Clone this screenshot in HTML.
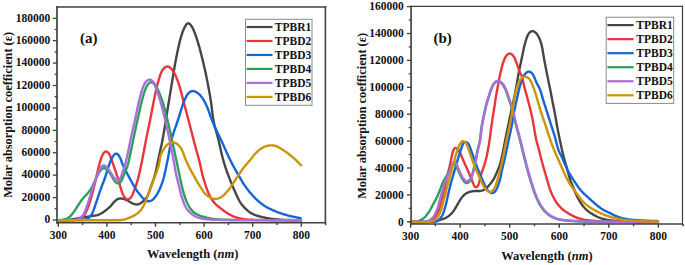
<!DOCTYPE html>
<html><head><meta charset="utf-8"><style>
html,body{margin:0;padding:0;background:#fff;}
svg{display:block;}
.t{font-family:"Liberation Serif",serif;font-weight:bold;font-size:11.5px;fill:#111;}
.ax{font-family:"Liberation Serif",serif;font-weight:bold;font-size:12.3px;fill:#111;}
.pl{font-family:"Liberation Serif",serif;font-weight:bold;font-size:15px;fill:#111;}
</style></head><body>
<svg width="685" height="265" viewBox="0 0 685 265">
<rect width="685" height="265" fill="#fff"/>
<path d="M57.75,220.20 L58.50,220.20 L59.25,220.19 L60.00,220.19 L60.75,220.18 L61.50,220.17 L62.25,220.17 L63.00,220.15 L63.75,220.14 L64.50,220.13 L65.25,220.11 L66.00,220.08 L66.75,220.04 L67.49,219.99 L68.24,219.92 L68.99,219.83 L69.73,219.74 L70.47,219.64 L71.21,219.53 L71.95,219.41 L72.69,219.29 L73.43,219.16 L74.17,219.02 L74.90,218.87 L75.64,218.72 L76.37,218.56 L77.11,218.40 L77.84,218.25 L78.57,218.10 L79.31,217.97 L80.05,217.84 L80.79,217.72 L81.53,217.61 L82.27,217.50 L83.02,217.39 L83.76,217.28 L84.50,217.17 L85.24,217.06 L85.98,216.95 L86.72,216.83 L87.46,216.71 L88.20,216.58 L88.94,216.46 L89.68,216.34 L90.42,216.21 L91.16,216.09 L91.91,215.98 L92.65,215.88 L93.39,215.77 L94.13,215.68 L94.88,215.57 L95.62,215.46 L96.36,215.33 L97.09,215.18 L97.81,214.99 L98.52,214.76 L99.21,214.48 L99.88,214.16 L100.54,213.80 L101.19,213.43 L101.83,213.04 L102.46,212.64 L103.09,212.23 L103.72,211.82 L104.34,211.40 L104.95,210.97 L105.56,210.53 L106.16,210.08 L106.75,209.62 L107.34,209.15 L107.91,208.67 L108.48,208.18 L109.03,207.68 L109.58,207.16 L110.11,206.63 L110.61,206.08 L111.11,205.52 L111.59,204.94 L112.07,204.36 L112.54,203.79 L113.03,203.21 L113.52,202.65 L114.03,202.11 L114.56,201.57 L115.10,201.05 L115.64,200.54 L116.20,200.05 L116.79,199.59 L117.40,199.20 L118.06,198.89 L118.75,198.69 L119.47,198.59 L120.21,198.55 L120.95,198.56 L121.70,198.60 L122.44,198.67 L123.17,198.80 L123.89,198.97 L124.60,199.21 L125.29,199.48 L125.97,199.80 L126.65,200.12 L127.31,200.46 L127.98,200.81 L128.63,201.17 L129.28,201.55 L129.93,201.93 L130.57,202.32 L131.22,202.69 L131.88,203.04 L132.56,203.35 L133.25,203.63 L133.96,203.87 L134.67,204.08 L135.40,204.25 L136.13,204.38 L136.86,204.44 L137.59,204.41 L138.31,204.29 L139.01,204.07 L139.68,203.77 L140.34,203.42 L140.97,203.02 L141.57,202.59 L142.15,202.12 L142.71,201.62 L143.26,201.11 L143.80,200.59 L144.32,200.05 L144.83,199.51 L145.33,198.95 L145.81,198.37 L146.27,197.78 L146.70,197.17 L147.11,196.54 L147.49,195.90 L147.83,195.24 L148.14,194.56 L148.43,193.87 L148.70,193.17 L148.96,192.46 L149.20,191.75 L149.44,191.04 L149.68,190.33 L149.91,189.62 L150.15,188.91 L150.39,188.20 L150.64,187.49 L150.89,186.78 L151.15,186.08 L151.41,185.37 L151.67,184.67 L151.94,183.97 L152.20,183.27 L152.46,182.57 L152.72,181.86 L152.98,181.16 L153.23,180.45 L153.47,179.74 L153.71,179.03 L153.94,178.32 L154.16,177.60 L154.37,176.88 L154.58,176.16 L154.78,175.44 L154.97,174.71 L155.16,173.99 L155.35,173.26 L155.53,172.53 L155.71,171.80 L155.88,171.08 L156.06,170.35 L156.23,169.62 L156.39,168.88 L156.56,168.15 L156.72,167.42 L156.88,166.69 L157.04,165.95 L157.19,165.22 L157.34,164.48 L157.49,163.75 L157.63,163.01 L157.78,162.28 L157.92,161.54 L158.06,160.81 L158.21,160.07 L158.35,159.33 L158.50,158.60 L158.64,157.86 L158.79,157.13 L158.95,156.39 L159.10,155.66 L159.26,154.93 L159.42,154.19 L159.58,153.46 L159.74,152.73 L159.90,152.00 L160.07,151.26 L160.23,150.53 L160.40,149.80 L160.56,149.07 L160.73,148.34 L160.89,147.61 L161.06,146.87 L161.22,146.14 L161.38,145.41 L161.54,144.68 L161.69,143.94 L161.85,143.21 L162.00,142.47 L162.15,141.74 L162.30,141.00 L162.44,140.27 L162.59,139.53 L162.73,138.80 L162.87,138.06 L163.00,137.32 L163.14,136.58 L163.27,135.85 L163.40,135.11 L163.53,134.37 L163.66,133.63 L163.79,132.89 L163.92,132.15 L164.04,131.41 L164.17,130.67 L164.29,129.93 L164.42,129.19 L164.54,128.45 L164.66,127.71 L164.78,126.97 L164.90,126.23 L165.02,125.49 L165.14,124.75 L165.26,124.01 L165.38,123.27 L165.50,122.53 L165.62,121.79 L165.74,121.05 L165.85,120.31 L165.97,119.57 L166.09,118.83 L166.20,118.09 L166.32,117.35 L166.44,116.60 L166.55,115.86 L166.67,115.12 L166.79,114.38 L166.90,113.64 L167.02,112.90 L167.14,112.16 L167.25,111.42 L167.37,110.68 L167.49,109.94 L167.61,109.20 L167.72,108.46 L167.84,107.71 L167.96,106.97 L168.08,106.23 L168.20,105.49 L168.32,104.75 L168.44,104.01 L168.56,103.27 L168.68,102.53 L168.80,101.79 L168.93,101.05 L169.05,100.31 L169.17,99.57 L169.29,98.83 L169.42,98.09 L169.54,97.35 L169.66,96.61 L169.79,95.87 L169.91,95.13 L170.03,94.39 L170.15,93.65 L170.27,92.91 L170.39,92.17 L170.51,91.43 L170.63,90.69 L170.75,89.95 L170.87,89.21 L170.99,88.47 L171.11,87.73 L171.23,86.99 L171.35,86.25 L171.47,85.51 L171.59,84.77 L171.71,84.03 L171.83,83.29 L171.95,82.55 L172.07,81.81 L172.20,81.07 L172.32,80.33 L172.44,79.59 L172.56,78.85 L172.68,78.11 L172.80,77.37 L172.92,76.63 L173.04,75.89 L173.17,75.15 L173.29,74.41 L173.41,73.67 L173.54,72.93 L173.66,72.19 L173.79,71.45 L173.91,70.71 L174.04,69.97 L174.17,69.23 L174.29,68.49 L174.42,67.75 L174.55,67.01 L174.68,66.28 L174.81,65.54 L174.94,64.80 L175.07,64.06 L175.21,63.32 L175.34,62.58 L175.48,61.85 L175.61,61.11 L175.75,60.37 L175.89,59.63 L176.03,58.90 L176.17,58.16 L176.32,57.43 L176.46,56.69 L176.61,55.95 L176.76,55.22 L176.91,54.48 L177.06,53.75 L177.21,53.02 L177.36,52.28 L177.52,51.55 L177.67,50.81 L177.83,50.08 L177.98,49.35 L178.14,48.61 L178.30,47.88 L178.46,47.15 L178.62,46.42 L178.79,45.68 L178.95,44.95 L179.12,44.22 L179.30,43.49 L179.47,42.76 L179.65,42.03 L179.83,41.31 L180.01,40.58 L180.20,39.85 L180.40,39.13 L180.60,38.41 L180.81,37.69 L181.02,36.97 L181.23,36.25 L181.45,35.53 L181.68,34.82 L181.91,34.10 L182.14,33.39 L182.38,32.68 L182.63,31.97 L182.88,31.26 L183.15,30.56 L183.42,29.87 L183.72,29.18 L184.03,28.50 L184.36,27.82 L184.71,27.16 L185.06,26.50 L185.43,25.85 L185.82,25.21 L186.24,24.60 L186.69,24.05 L187.21,23.60 L187.78,23.33 L188.38,23.28 L188.98,23.46 L189.55,23.82 L190.07,24.30 L190.56,24.85 L191.02,25.44 L191.45,26.05 L191.86,26.67 L192.25,27.31 L192.61,27.97 L192.95,28.64 L193.27,29.31 L193.57,30.00 L193.86,30.69 L194.14,31.39 L194.41,32.09 L194.67,32.79 L194.94,33.49 L195.20,34.19 L195.46,34.90 L195.71,35.60 L195.97,36.31 L196.21,37.02 L196.46,37.73 L196.69,38.44 L196.93,39.15 L197.16,39.86 L197.38,40.58 L197.61,41.29 L197.83,42.01 L198.04,42.73 L198.26,43.45 L198.47,44.17 L198.68,44.89 L198.88,45.61 L199.09,46.33 L199.29,47.05 L199.49,47.78 L199.69,48.50 L199.89,49.22 L200.08,49.95 L200.27,50.67 L200.47,51.40 L200.66,52.12 L200.85,52.85 L201.03,53.57 L201.22,54.30 L201.41,55.03 L201.59,55.75 L201.77,56.48 L201.95,57.21 L202.14,57.94 L202.32,58.67 L202.50,59.39 L202.67,60.12 L202.85,60.85 L203.03,61.58 L203.20,62.31 L203.37,63.04 L203.55,63.77 L203.72,64.50 L203.89,65.23 L204.06,65.96 L204.22,66.69 L204.39,67.42 L204.56,68.15 L204.72,68.89 L204.88,69.62 L205.05,70.35 L205.21,71.08 L205.37,71.82 L205.53,72.55 L205.68,73.28 L205.84,74.02 L206.00,74.75 L206.15,75.48 L206.30,76.22 L206.46,76.95 L206.61,77.69 L206.76,78.42 L206.91,79.16 L207.05,79.89 L207.20,80.63 L207.34,81.36 L207.49,82.10 L207.63,82.83 L207.78,83.57 L207.92,84.31 L208.06,85.04 L208.20,85.78 L208.34,86.52 L208.47,87.26 L208.61,87.99 L208.74,88.73 L208.88,89.47 L209.01,90.21 L209.15,90.94 L209.28,91.68 L209.41,92.42 L209.54,93.16 L209.67,93.90 L209.80,94.64 L209.92,95.38 L210.05,96.12 L210.17,96.86 L210.30,97.60 L210.42,98.34 L210.54,99.08 L210.66,99.82 L210.78,100.56 L210.89,101.30 L211.00,102.04 L211.11,102.78 L211.21,103.53 L211.31,104.27 L211.40,105.01 L211.50,105.76 L211.59,106.50 L211.68,107.25 L211.77,107.99 L211.86,108.73 L211.95,109.48 L212.05,110.22 L212.14,110.97 L212.23,111.71 L212.32,112.46 L212.41,113.20 L212.51,113.95 L212.60,114.69 L212.70,115.43 L212.80,116.18 L212.91,116.92 L213.02,117.66 L213.14,118.40 L213.26,119.14 L213.39,119.88 L213.53,120.62 L213.67,121.35 L213.82,122.09 L213.97,122.82 L214.13,123.55 L214.29,124.29 L214.46,125.02 L214.63,125.75 L214.81,126.48 L214.99,127.20 L215.18,127.93 L215.37,128.65 L215.57,129.38 L215.77,130.10 L215.97,130.82 L216.17,131.55 L216.38,132.27 L216.59,132.99 L216.79,133.71 L217.00,134.43 L217.20,135.15 L217.41,135.87 L217.61,136.60 L217.80,137.32 L218.00,138.04 L218.18,138.77 L218.37,139.50 L218.55,140.23 L218.73,140.95 L218.90,141.68 L219.07,142.41 L219.24,143.14 L219.41,143.88 L219.57,144.61 L219.74,145.34 L219.90,146.07 L220.07,146.80 L220.23,147.53 L220.39,148.27 L220.56,149.00 L220.72,149.73 L220.88,150.46 L221.05,151.19 L221.21,151.93 L221.38,152.66 L221.55,153.39 L221.72,154.12 L221.89,154.85 L222.06,155.58 L222.24,156.31 L222.42,157.03 L222.61,157.76 L222.80,158.49 L222.99,159.21 L223.19,159.93 L223.39,160.66 L223.60,161.38 L223.81,162.10 L224.03,162.81 L224.25,163.53 L224.47,164.25 L224.70,164.96 L224.93,165.68 L225.16,166.39 L225.40,167.10 L225.63,167.81 L225.88,168.52 L226.12,169.23 L226.37,169.94 L226.61,170.65 L226.87,171.35 L227.12,172.06 L227.37,172.77 L227.63,173.47 L227.88,174.18 L228.14,174.88 L228.40,175.58 L228.66,176.29 L228.92,176.99 L229.19,177.69 L229.46,178.39 L229.72,179.09 L229.99,179.79 L230.27,180.49 L230.54,181.19 L230.82,181.88 L231.10,182.58 L231.38,183.27 L231.67,183.97 L231.96,184.66 L232.25,185.35 L232.55,186.04 L232.84,186.73 L233.14,187.42 L233.45,188.10 L233.75,188.79 L234.05,189.47 L234.36,190.16 L234.66,190.85 L234.96,191.53 L235.26,192.22 L235.57,192.91 L235.87,193.59 L236.18,194.27 L236.49,194.96 L236.80,195.64 L237.11,196.32 L237.43,197.00 L237.76,197.68 L238.08,198.35 L238.42,199.02 L238.76,199.69 L239.12,200.35 L239.48,201.01 L239.85,201.65 L240.24,202.29 L240.65,202.92 L241.08,203.54 L241.52,204.14 L241.98,204.73 L242.45,205.31 L242.94,205.89 L243.43,206.45 L243.93,207.01 L244.44,207.56 L244.96,208.10 L245.48,208.64 L246.02,209.16 L246.56,209.68 L247.12,210.18 L247.69,210.67 L248.27,211.15 L248.86,211.61 L249.46,212.05 L250.08,212.47 L250.71,212.88 L251.35,213.26 L252.01,213.61 L252.68,213.95 L253.36,214.26 L254.05,214.55 L254.75,214.83 L255.45,215.10 L256.16,215.34 L256.87,215.58 L257.58,215.81 L258.30,216.02 L259.02,216.23 L259.74,216.42 L260.47,216.61 L261.20,216.80 L261.93,216.98 L262.65,217.15 L263.38,217.33 L264.12,217.49 L264.85,217.66 L265.58,217.82 L266.31,217.97 L267.05,218.12 L267.78,218.26 L268.52,218.39 L269.26,218.52 L270.00,218.64 L270.75,218.74 L271.49,218.84 L272.23,218.93 L272.98,219.01 L273.72,219.09 L274.47,219.17 L275.22,219.24 L275.96,219.31 L276.71,219.38 L277.46,219.45 L278.20,219.51 L278.95,219.57 L279.70,219.62 L280.45,219.67 L281.20,219.72 L281.95,219.76 L282.69,219.80 L283.44,219.84 L284.19,219.87 L284.94,219.89 L285.69,219.92 L286.44,219.94 L287.19,219.96 L287.94,219.98 L288.69,220.01 L289.44,220.02 L290.19,220.04 L290.94,220.06 L291.69,220.08 L292.44,220.10 L293.19,220.11 L293.94,220.13 L294.69,220.14 L295.44,220.15 L296.19,220.16 L296.94,220.17 L297.69,220.18 L298.44,220.19 L299.19,220.19 L299.94,220.20 L300.69,220.20" fill="none" stroke="#464646" stroke-width="2.4" stroke-linejoin="round" stroke-linecap="round"/>
<path d="M57.75,220.20 L58.50,220.20 L59.25,220.20 L60.00,220.20 L60.75,220.19 L61.50,220.19 L62.25,220.19 L63.00,220.19 L63.75,220.18 L64.50,220.18 L65.25,220.17 L66.00,220.17 L66.75,220.16 L67.50,220.15 L68.25,220.15 L69.00,220.14 L69.75,220.13 L70.50,220.12 L71.25,220.10 L72.00,220.09 L72.75,220.06 L73.50,220.01 L74.24,219.96 L74.99,219.88 L75.73,219.79 L76.47,219.68 L77.21,219.56 L77.95,219.41 L78.67,219.24 L79.39,219.03 L80.08,218.76 L80.74,218.43 L81.36,218.04 L81.95,217.59 L82.51,217.10 L83.05,216.57 L83.55,216.03 L84.03,215.45 L84.47,214.85 L84.88,214.23 L85.26,213.58 L85.61,212.92 L85.94,212.25 L86.26,211.57 L86.56,210.89 L86.86,210.20 L87.15,209.51 L87.44,208.81 L87.72,208.12 L88.00,207.42 L88.27,206.72 L88.53,206.02 L88.78,205.31 L89.02,204.60 L89.26,203.89 L89.49,203.18 L89.72,202.46 L89.94,201.75 L90.17,201.03 L90.38,200.31 L90.60,199.60 L90.81,198.88 L91.03,198.16 L91.23,197.44 L91.44,196.72 L91.64,195.99 L91.84,195.27 L92.03,194.55 L92.23,193.82 L92.42,193.10 L92.61,192.37 L92.80,191.64 L92.98,190.92 L93.17,190.19 L93.35,189.46 L93.54,188.74 L93.72,188.01 L93.90,187.28 L94.08,186.55 L94.26,185.83 L94.44,185.10 L94.61,184.37 L94.79,183.64 L94.96,182.91 L95.13,182.18 L95.31,181.45 L95.48,180.72 L95.65,179.99 L95.82,179.26 L95.99,178.53 L96.16,177.80 L96.33,177.07 L96.50,176.34 L96.67,175.61 L96.83,174.87 L97.00,174.14 L97.17,173.41 L97.34,172.68 L97.50,171.95 L97.67,171.22 L97.85,170.49 L98.02,169.76 L98.19,169.03 L98.37,168.30 L98.55,167.57 L98.72,166.84 L98.90,166.12 L99.08,165.39 L99.27,164.66 L99.46,163.93 L99.65,163.21 L99.85,162.49 L100.06,161.77 L100.28,161.05 L100.50,160.33 L100.72,159.62 L100.95,158.90 L101.20,158.19 L101.45,157.49 L101.72,156.79 L102.01,156.10 L102.33,155.43 L102.68,154.76 L103.05,154.12 L103.45,153.48 L103.88,152.88 L104.35,152.33 L104.87,151.89 L105.45,151.61 L106.07,151.53 L106.70,151.67 L107.31,151.98 L107.88,152.42 L108.40,152.94 L108.87,153.51 L109.29,154.12 L109.65,154.76 L109.98,155.43 L110.27,156.12 L110.54,156.82 L110.79,157.52 L111.04,158.23 L111.28,158.94 L111.52,159.65 L111.77,160.36 L112.02,161.07 L112.27,161.77 L112.52,162.48 L112.78,163.18 L113.03,163.89 L113.29,164.60 L113.54,165.30 L113.79,166.01 L114.04,166.72 L114.28,167.43 L114.53,168.14 L114.77,168.84 L115.01,169.55 L115.25,170.27 L115.49,170.98 L115.73,171.69 L115.96,172.40 L116.20,173.11 L116.43,173.82 L116.66,174.54 L116.90,175.25 L117.12,175.96 L117.35,176.68 L117.58,177.39 L117.80,178.11 L118.03,178.83 L118.25,179.54 L118.47,180.26 L118.69,180.98 L118.90,181.70 L119.11,182.41 L119.32,183.14 L119.53,183.86 L119.73,184.58 L119.93,185.30 L120.12,186.03 L120.32,186.75 L120.53,187.47 L120.74,188.19 L120.96,188.91 L121.19,189.62 L121.43,190.33 L121.67,191.04 L121.92,191.75 L122.17,192.45 L122.44,193.15 L122.72,193.85 L123.01,194.54 L123.34,195.21 L123.69,195.87 L124.08,196.50 L124.51,197.12 L124.97,197.70 L125.46,198.25 L125.99,198.75 L126.58,199.13 L127.20,199.37 L127.86,199.43 L128.51,199.29 L129.15,199.00 L129.74,198.59 L130.29,198.11 L130.80,197.57 L131.26,196.99 L131.67,196.37 L132.03,195.72 L132.36,195.05 L132.66,194.36 L132.94,193.67 L133.21,192.97 L133.48,192.27 L133.74,191.56 L134.00,190.86 L134.26,190.16 L134.52,189.45 L134.78,188.75 L135.03,188.05 L135.29,187.34 L135.54,186.63 L135.78,185.92 L136.02,185.21 L136.26,184.50 L136.49,183.79 L136.72,183.08 L136.94,182.36 L137.16,181.64 L137.38,180.92 L137.59,180.20 L137.80,179.48 L138.00,178.76 L138.20,178.04 L138.40,177.31 L138.59,176.59 L138.77,175.86 L138.95,175.13 L139.13,174.41 L139.30,173.68 L139.47,172.94 L139.64,172.21 L139.80,171.48 L139.96,170.75 L140.12,170.02 L140.28,169.28 L140.43,168.55 L140.59,167.82 L140.74,167.08 L140.90,166.35 L141.05,165.61 L141.20,164.88 L141.35,164.14 L141.50,163.41 L141.66,162.68 L141.81,161.94 L141.96,161.21 L142.11,160.47 L142.25,159.74 L142.40,159.00 L142.55,158.26 L142.69,157.53 L142.83,156.79 L142.98,156.06 L143.12,155.32 L143.26,154.58 L143.39,153.85 L143.53,153.11 L143.67,152.37 L143.81,151.63 L143.94,150.90 L144.08,150.16 L144.22,149.42 L144.35,148.68 L144.49,147.95 L144.63,147.21 L144.77,146.47 L144.90,145.73 L145.04,145.00 L145.18,144.26 L145.32,143.52 L145.46,142.79 L145.60,142.05 L145.74,141.31 L145.89,140.58 L146.03,139.84 L146.18,139.11 L146.33,138.37 L146.47,137.64 L146.62,136.90 L146.77,136.17 L146.92,135.43 L147.08,134.70 L147.23,133.96 L147.38,133.23 L147.53,132.49 L147.69,131.76 L147.84,131.02 L147.99,130.29 L148.15,129.56 L148.30,128.82 L148.45,128.09 L148.61,127.35 L148.76,126.62 L148.91,125.89 L149.07,125.15 L149.22,124.42 L149.37,123.68 L149.52,122.95 L149.67,122.21 L149.82,121.48 L149.97,120.74 L150.12,120.01 L150.26,119.27 L150.41,118.54 L150.55,117.80 L150.70,117.06 L150.84,116.33 L150.99,115.59 L151.13,114.86 L151.27,114.12 L151.41,113.38 L151.55,112.65 L151.69,111.91 L151.83,111.17 L151.97,110.44 L152.12,109.70 L152.26,108.96 L152.40,108.23 L152.54,107.49 L152.68,106.75 L152.82,106.02 L152.96,105.28 L153.10,104.54 L153.25,103.81 L153.39,103.07 L153.54,102.34 L153.68,101.60 L153.83,100.86 L153.97,100.13 L154.12,99.39 L154.27,98.66 L154.41,97.92 L154.56,97.19 L154.71,96.45 L154.85,95.72 L155.00,94.98 L155.15,94.24 L155.30,93.51 L155.45,92.78 L155.60,92.04 L155.76,91.31 L155.92,90.57 L156.08,89.84 L156.25,89.11 L156.42,88.38 L156.59,87.65 L156.77,86.92 L156.96,86.20 L157.15,85.47 L157.34,84.75 L157.54,84.02 L157.74,83.30 L157.94,82.58 L158.15,81.86 L158.36,81.14 L158.58,80.42 L158.79,79.70 L159.00,78.98 L159.22,78.26 L159.44,77.55 L159.66,76.83 L159.88,76.11 L160.12,75.40 L160.36,74.69 L160.63,73.99 L160.91,73.30 L161.21,72.61 L161.53,71.93 L161.86,71.26 L162.22,70.61 L162.60,69.97 L163.03,69.36 L163.49,68.78 L164.00,68.24 L164.56,67.75 L165.15,67.31 L165.78,66.93 L166.44,66.66 L167.12,66.51 L167.81,66.52 L168.49,66.68 L169.14,66.97 L169.76,67.36 L170.35,67.81 L170.90,68.31 L171.42,68.84 L171.91,69.40 L172.36,70.00 L172.79,70.61 L173.19,71.24 L173.57,71.89 L173.95,72.54 L174.31,73.19 L174.67,73.85 L175.01,74.52 L175.34,75.19 L175.66,75.87 L175.97,76.55 L176.27,77.24 L176.56,77.93 L176.85,78.62 L177.12,79.32 L177.39,80.02 L177.66,80.72 L177.91,81.43 L178.16,82.13 L178.40,82.85 L178.63,83.56 L178.86,84.27 L179.09,84.99 L179.31,85.70 L179.53,86.42 L179.75,87.14 L179.96,87.86 L180.17,88.58 L180.38,89.30 L180.59,90.02 L180.79,90.74 L180.98,91.46 L181.18,92.19 L181.37,92.91 L181.56,93.64 L181.75,94.37 L181.94,95.09 L182.12,95.82 L182.31,96.54 L182.50,97.27 L182.68,98.00 L182.87,98.72 L183.06,99.45 L183.25,100.18 L183.44,100.90 L183.63,101.63 L183.82,102.35 L184.01,103.08 L184.20,103.80 L184.39,104.53 L184.58,105.25 L184.77,105.98 L184.96,106.70 L185.15,107.43 L185.34,108.16 L185.53,108.88 L185.72,109.61 L185.91,110.33 L186.10,111.06 L186.28,111.78 L186.47,112.51 L186.66,113.24 L186.85,113.96 L187.04,114.69 L187.23,115.41 L187.42,116.14 L187.61,116.86 L187.80,117.59 L187.99,118.32 L188.18,119.04 L188.37,119.77 L188.56,120.49 L188.75,121.22 L188.94,121.94 L189.13,122.67 L189.32,123.39 L189.51,124.12 L189.70,124.85 L189.89,125.57 L190.08,126.30 L190.27,127.02 L190.46,127.75 L190.65,128.47 L190.83,129.20 L191.02,129.93 L191.21,130.65 L191.40,131.38 L191.59,132.10 L191.78,132.83 L191.97,133.56 L192.15,134.28 L192.34,135.01 L192.53,135.73 L192.72,136.46 L192.91,137.18 L193.10,137.91 L193.29,138.64 L193.48,139.36 L193.67,140.09 L193.85,140.81 L194.04,141.54 L194.24,142.26 L194.43,142.99 L194.62,143.71 L194.81,144.44 L195.00,145.16 L195.19,145.89 L195.39,146.61 L195.58,147.34 L195.78,148.06 L195.97,148.79 L196.17,149.51 L196.37,150.23 L196.57,150.96 L196.77,151.68 L196.97,152.40 L197.18,153.12 L197.39,153.84 L197.59,154.56 L197.80,155.28 L198.01,156.01 L198.21,156.73 L198.41,157.45 L198.61,158.17 L198.80,158.90 L198.99,159.62 L199.18,160.35 L199.36,161.08 L199.54,161.81 L199.71,162.54 L199.88,163.27 L200.05,164.00 L200.21,164.73 L200.37,165.46 L200.53,166.20 L200.69,166.93 L200.85,167.66 L201.01,168.39 L201.17,169.13 L201.33,169.86 L201.49,170.59 L201.65,171.32 L201.82,172.06 L201.99,172.79 L202.16,173.52 L202.33,174.25 L202.51,174.97 L202.70,175.70 L202.89,176.42 L203.09,177.15 L203.30,177.87 L203.51,178.59 L203.72,179.31 L203.93,180.03 L204.15,180.74 L204.37,181.46 L204.59,182.18 L204.81,182.90 L205.04,183.61 L205.26,184.33 L205.49,185.04 L205.73,185.75 L205.96,186.46 L206.21,187.17 L206.45,187.88 L206.70,188.59 L206.95,189.30 L207.21,190.00 L207.48,190.70 L207.75,191.40 L208.03,192.10 L208.32,192.79 L208.61,193.48 L208.92,194.16 L209.24,194.84 L209.57,195.51 L209.91,196.18 L210.27,196.84 L210.64,197.49 L211.02,198.13 L211.42,198.77 L211.82,199.40 L212.24,200.02 L212.68,200.63 L213.13,201.23 L213.59,201.82 L214.06,202.40 L214.56,202.97 L215.06,203.52 L215.58,204.06 L216.12,204.58 L216.67,205.09 L217.24,205.58 L217.81,206.06 L218.39,206.53 L218.98,207.00 L219.57,207.46 L220.17,207.92 L220.76,208.38 L221.35,208.84 L221.94,209.30 L222.54,209.76 L223.13,210.22 L223.73,210.67 L224.33,211.12 L224.93,211.56 L225.54,212.00 L226.16,212.42 L226.79,212.83 L227.42,213.23 L228.06,213.62 L228.71,213.99 L229.37,214.36 L230.03,214.71 L230.69,215.07 L231.36,215.41 L232.03,215.74 L232.71,216.06 L233.39,216.36 L234.09,216.64 L234.79,216.91 L235.50,217.15 L236.21,217.38 L236.93,217.59 L237.65,217.79 L238.38,217.98 L239.10,218.16 L239.83,218.34 L240.56,218.51 L241.30,218.67 L242.03,218.82 L242.77,218.95 L243.51,219.08 L244.25,219.19 L244.99,219.29 L245.74,219.37 L246.48,219.44 L247.23,219.50 L247.98,219.55 L248.73,219.60 L249.48,219.64 L250.23,219.68 L250.97,219.71 L251.72,219.75 L252.47,219.78 L253.22,219.82 L253.97,219.85 L254.72,219.88 L255.47,219.90 L256.22,219.93 L256.97,219.95 L257.72,219.97 L258.47,219.99 L259.22,220.01 L259.97,220.03 L260.72,220.04 L261.47,220.06 L262.22,220.07 L262.97,220.08 L263.72,220.09 L264.47,220.09 L265.22,220.10 L265.97,220.10 L266.72,220.11 L267.47,220.11 L268.22,220.12 L268.97,220.12 L269.72,220.12 L270.47,220.13 L271.22,220.13 L271.97,220.14 L272.72,220.14 L273.47,220.14 L274.22,220.14 L274.97,220.15 L275.72,220.15 L276.47,220.15 L277.22,220.16 L277.97,220.16 L278.72,220.16 L279.47,220.16 L280.22,220.17 L280.97,220.17 L281.72,220.17 L282.47,220.17 L283.22,220.18 L283.97,220.18 L284.72,220.18 L285.47,220.18 L286.22,220.18 L286.97,220.18 L287.72,220.19 L288.47,220.19 L289.22,220.19 L289.97,220.19 L290.72,220.19 L291.47,220.19 L292.22,220.19 L292.97,220.19 L293.72,220.20 L294.47,220.20 L295.22,220.20 L295.97,220.20 L296.72,220.20 L297.47,220.20 L298.22,220.20 L298.97,220.20 L299.72,220.20 L300.47,220.20 L301.22,220.20" fill="none" stroke="#e8363c" stroke-width="2.4" stroke-linejoin="round" stroke-linecap="round"/>
<path d="M57.75,220.20 L58.50,220.20 L59.25,220.20 L60.00,220.20 L60.75,220.20 L61.50,220.20 L62.25,220.20 L63.00,220.20 L63.75,220.20 L64.50,220.19 L65.25,220.19 L66.00,220.19 L66.75,220.19 L67.50,220.19 L68.25,220.19 L69.00,220.18 L69.75,220.18 L70.50,220.18 L71.25,220.17 L72.00,220.17 L72.75,220.17 L73.50,220.16 L74.25,220.16 L75.00,220.16 L75.75,220.15 L76.50,220.15 L77.25,220.14 L78.00,220.14 L78.75,220.13 L79.50,220.12 L80.25,220.11 L81.00,220.10 L81.75,220.07 L82.49,220.02 L83.24,219.94 L83.97,219.82 L84.70,219.66 L85.42,219.46 L86.13,219.23 L86.83,218.96 L87.50,218.64 L88.13,218.26 L88.73,217.83 L89.29,217.34 L89.82,216.82 L90.32,216.26 L90.79,215.68 L91.23,215.08 L91.65,214.46 L92.03,213.82 L92.38,213.16 L92.69,212.48 L92.98,211.79 L93.26,211.09 L93.52,210.39 L93.77,209.68 L94.01,208.97 L94.26,208.26 L94.49,207.55 L94.73,206.84 L94.97,206.13 L95.22,205.42 L95.46,204.71 L95.71,204.00 L95.95,203.29 L96.19,202.58 L96.43,201.87 L96.67,201.16 L96.90,200.45 L97.13,199.74 L97.37,199.02 L97.60,198.31 L97.84,197.60 L98.07,196.89 L98.31,196.17 L98.55,195.46 L98.79,194.75 L99.03,194.04 L99.27,193.33 L99.52,192.62 L99.76,191.92 L100.01,191.21 L100.25,190.50 L100.50,189.79 L100.75,189.08 L101.00,188.38 L101.26,187.67 L101.52,186.97 L101.78,186.27 L102.05,185.57 L102.32,184.87 L102.60,184.17 L102.88,183.47 L103.15,182.78 L103.43,182.08 L103.70,181.38 L103.97,180.68 L104.23,179.98 L104.49,179.27 L104.74,178.57 L104.98,177.86 L105.22,177.14 L105.45,176.43 L105.68,175.72 L105.90,175.00 L106.12,174.28 L106.34,173.57 L106.55,172.85 L106.77,172.13 L106.99,171.41 L107.20,170.69 L107.42,169.98 L107.64,169.26 L107.87,168.54 L108.10,167.83 L108.33,167.12 L108.57,166.41 L108.81,165.70 L109.07,164.99 L109.32,164.29 L109.59,163.58 L109.85,162.88 L110.12,162.18 L110.39,161.48 L110.67,160.79 L110.96,160.10 L111.26,159.41 L111.58,158.73 L111.92,158.07 L112.29,157.42 L112.69,156.78 L113.11,156.16 L113.54,155.56 L114.01,154.98 L114.51,154.45 L115.05,154.01 L115.65,153.73 L116.26,153.65 L116.88,153.79 L117.45,154.12 L117.98,154.58 L118.47,155.13 L118.91,155.73 L119.33,156.35 L119.71,156.99 L120.05,157.65 L120.36,158.33 L120.64,159.03 L120.91,159.73 L121.16,160.43 L121.41,161.14 L121.66,161.85 L121.92,162.55 L122.18,163.25 L122.46,163.95 L122.74,164.64 L123.05,165.33 L123.36,166.01 L123.68,166.69 L124.00,167.37 L124.33,168.04 L124.67,168.71 L125.00,169.38 L125.35,170.05 L125.69,170.71 L126.04,171.38 L126.39,172.04 L126.74,172.70 L127.09,173.37 L127.44,174.03 L127.79,174.69 L128.14,175.36 L128.49,176.02 L128.84,176.68 L129.19,177.35 L129.54,178.01 L129.90,178.67 L130.25,179.33 L130.61,179.99 L130.97,180.64 L131.34,181.30 L131.70,181.96 L132.06,182.61 L132.43,183.27 L132.79,183.92 L133.16,184.58 L133.53,185.23 L133.90,185.88 L134.27,186.53 L134.65,187.18 L135.03,187.83 L135.42,188.46 L135.83,189.10 L136.24,189.72 L136.67,190.34 L137.10,190.95 L137.55,191.55 L138.01,192.14 L138.48,192.73 L138.95,193.31 L139.42,193.90 L139.89,194.48 L140.35,195.07 L140.82,195.66 L141.27,196.25 L141.74,196.84 L142.21,197.42 L142.70,197.98 L143.22,198.52 L143.78,199.02 L144.36,199.49 L144.96,199.92 L145.59,200.32 L146.24,200.68 L146.91,200.98 L147.61,201.19 L148.32,201.29 L149.04,201.28 L149.76,201.16 L150.46,200.94 L151.14,200.66 L151.80,200.31 L152.43,199.92 L153.01,199.46 L153.56,198.96 L154.06,198.42 L154.54,197.84 L154.99,197.25 L155.43,196.64 L155.86,196.03 L156.29,195.41 L156.70,194.78 L157.10,194.15 L157.48,193.51 L157.86,192.85 L158.21,192.20 L158.56,191.53 L158.90,190.86 L159.23,190.19 L159.54,189.51 L159.85,188.82 L160.15,188.14 L160.44,187.45 L160.72,186.75 L161.00,186.05 L161.27,185.35 L161.53,184.65 L161.79,183.95 L162.04,183.24 L162.28,182.53 L162.52,181.82 L162.74,181.10 L162.96,180.39 L163.18,179.67 L163.38,178.95 L163.58,178.22 L163.77,177.50 L163.96,176.77 L164.14,176.04 L164.32,175.32 L164.50,174.59 L164.67,173.86 L164.85,173.13 L165.02,172.40 L165.19,171.67 L165.35,170.94 L165.52,170.21 L165.68,169.47 L165.83,168.74 L165.99,168.01 L166.14,167.27 L166.29,166.54 L166.44,165.80 L166.59,165.07 L166.74,164.33 L166.89,163.60 L167.03,162.86 L167.18,162.12 L167.33,161.39 L167.47,160.65 L167.62,159.92 L167.76,159.18 L167.91,158.45 L168.06,157.71 L168.20,156.97 L168.34,156.24 L168.48,155.50 L168.62,154.76 L168.76,154.03 L168.89,153.29 L169.03,152.55 L169.16,151.81 L169.29,151.08 L169.43,150.34 L169.56,149.60 L169.70,148.86 L169.83,148.12 L169.97,147.39 L170.10,146.65 L170.24,145.91 L170.39,145.18 L170.53,144.44 L170.68,143.70 L170.83,142.97 L170.99,142.24 L171.15,141.51 L171.32,140.78 L171.50,140.05 L171.68,139.32 L171.87,138.59 L172.06,137.87 L172.26,137.15 L172.47,136.42 L172.67,135.70 L172.88,134.98 L173.10,134.27 L173.32,133.55 L173.55,132.83 L173.77,132.12 L174.01,131.41 L174.24,130.69 L174.48,129.98 L174.73,129.27 L174.97,128.57 L175.22,127.86 L175.47,127.15 L175.72,126.44 L175.97,125.74 L176.22,125.03 L176.47,124.32 L176.72,123.62 L176.97,122.91 L177.22,122.20 L177.46,121.49 L177.70,120.78 L177.94,120.07 L178.17,119.36 L178.41,118.64 L178.63,117.93 L178.86,117.21 L179.08,116.50 L179.31,115.78 L179.53,115.06 L179.75,114.35 L179.96,113.63 L180.18,112.91 L180.40,112.20 L180.62,111.48 L180.84,110.76 L181.06,110.04 L181.29,109.33 L181.51,108.61 L181.74,107.90 L181.96,107.18 L182.20,106.47 L182.43,105.76 L182.67,105.05 L182.92,104.34 L183.17,103.63 L183.43,102.93 L183.69,102.23 L183.97,101.53 L184.25,100.84 L184.55,100.15 L184.85,99.46 L185.16,98.78 L185.47,98.09 L185.79,97.42 L186.11,96.74 L186.45,96.07 L186.81,95.41 L187.19,94.78 L187.62,94.16 L188.08,93.59 L188.60,93.06 L189.16,92.57 L189.76,92.14 L190.39,91.75 L191.05,91.44 L191.75,91.22 L192.46,91.11 L193.18,91.11 L193.90,91.22 L194.60,91.42 L195.30,91.69 L195.97,92.00 L196.63,92.35 L197.28,92.73 L197.90,93.15 L198.49,93.59 L199.06,94.08 L199.60,94.60 L200.11,95.14 L200.60,95.71 L201.07,96.29 L201.53,96.88 L201.98,97.48 L202.41,98.09 L202.84,98.71 L203.25,99.33 L203.65,99.97 L204.03,100.61 L204.39,101.27 L204.74,101.93 L205.08,102.60 L205.40,103.28 L205.72,103.96 L206.03,104.64 L206.34,105.33 L206.64,106.01 L206.94,106.70 L207.23,107.39 L207.52,108.08 L207.81,108.78 L208.08,109.47 L208.35,110.17 L208.62,110.87 L208.87,111.58 L209.13,112.28 L209.38,112.99 L209.62,113.70 L209.87,114.41 L210.12,115.12 L210.37,115.82 L210.62,116.53 L210.87,117.24 L211.12,117.94 L211.39,118.64 L211.65,119.34 L211.93,120.04 L212.21,120.74 L212.49,121.43 L212.78,122.13 L213.06,122.82 L213.36,123.51 L213.65,124.20 L213.95,124.89 L214.25,125.58 L214.55,126.26 L214.86,126.95 L215.16,127.63 L215.47,128.32 L215.78,129.00 L216.09,129.68 L216.40,130.36 L216.72,131.04 L217.03,131.73 L217.35,132.41 L217.67,133.08 L217.99,133.76 L218.31,134.44 L218.64,135.11 L218.97,135.79 L219.30,136.46 L219.63,137.13 L219.97,137.80 L220.30,138.48 L220.63,139.15 L220.96,139.82 L221.28,140.50 L221.61,141.18 L221.93,141.85 L222.24,142.53 L222.56,143.22 L222.87,143.90 L223.17,144.58 L223.48,145.27 L223.78,145.95 L224.09,146.64 L224.39,147.32 L224.69,148.01 L224.99,148.70 L225.29,149.39 L225.59,150.07 L225.90,150.76 L226.20,151.44 L226.51,152.13 L226.81,152.81 L227.12,153.50 L227.44,154.18 L227.75,154.86 L228.07,155.54 L228.39,156.22 L228.71,156.89 L229.03,157.57 L229.36,158.25 L229.68,158.92 L230.01,159.60 L230.34,160.27 L230.67,160.94 L231.01,161.61 L231.34,162.28 L231.68,162.95 L232.02,163.62 L232.37,164.29 L232.72,164.95 L233.07,165.61 L233.42,166.27 L233.78,166.93 L234.15,167.59 L234.51,168.24 L234.88,168.90 L235.25,169.55 L235.63,170.20 L236.00,170.85 L236.38,171.50 L236.76,172.14 L237.14,172.79 L237.52,173.44 L237.90,174.08 L238.27,174.73 L238.65,175.38 L239.03,176.03 L239.40,176.68 L239.77,177.33 L240.14,177.98 L240.51,178.64 L240.88,179.29 L241.25,179.94 L241.63,180.59 L242.00,181.24 L242.38,181.89 L242.77,182.53 L243.16,183.17 L243.56,183.80 L243.97,184.43 L244.39,185.05 L244.81,185.67 L245.24,186.29 L245.68,186.90 L246.12,187.50 L246.56,188.11 L247.01,188.71 L247.47,189.30 L247.93,189.89 L248.40,190.48 L248.86,191.07 L249.34,191.65 L249.81,192.23 L250.29,192.80 L250.78,193.38 L251.27,193.95 L251.76,194.51 L252.25,195.07 L252.76,195.63 L253.26,196.18 L253.78,196.73 L254.30,197.27 L254.82,197.80 L255.35,198.33 L255.89,198.86 L256.44,199.37 L256.98,199.88 L257.54,200.39 L258.10,200.89 L258.66,201.38 L259.23,201.87 L259.81,202.35 L260.39,202.82 L260.98,203.28 L261.58,203.74 L262.17,204.19 L262.78,204.64 L263.39,205.07 L264.00,205.50 L264.63,205.92 L265.26,206.32 L265.90,206.71 L266.54,207.09 L267.20,207.46 L267.86,207.82 L268.52,208.16 L269.19,208.50 L269.87,208.83 L270.54,209.15 L271.22,209.46 L271.91,209.77 L272.59,210.08 L273.28,210.38 L273.97,210.67 L274.66,210.96 L275.36,211.24 L276.05,211.52 L276.75,211.79 L277.45,212.06 L278.15,212.33 L278.86,212.58 L279.56,212.84 L280.27,213.09 L280.98,213.34 L281.69,213.58 L282.40,213.82 L283.11,214.05 L283.83,214.28 L284.54,214.51 L285.26,214.73 L285.98,214.94 L286.70,215.15 L287.42,215.35 L288.14,215.55 L288.87,215.73 L289.60,215.91 L290.33,216.09 L291.06,216.26 L291.79,216.42 L292.52,216.58 L293.26,216.74 L293.99,216.89 L294.72,217.04 L295.46,217.19 L296.19,217.34 L296.93,217.48 L297.67,217.63 L298.40,217.77 L299.14,217.90 L299.88,218.03 L300.62,218.13" fill="none" stroke="#1565d8" stroke-width="2.4" stroke-linejoin="round" stroke-linecap="round"/>
<path d="M57.75,220.16 L58.50,220.12 L59.24,220.06 L59.99,219.99 L60.74,219.91 L61.48,219.82 L62.22,219.71 L62.96,219.59 L63.69,219.44 L64.42,219.27 L65.14,219.07 L65.85,218.84 L66.55,218.57 L67.23,218.27 L67.90,217.93 L68.55,217.56 L69.17,217.14 L69.75,216.69 L70.31,216.19 L70.83,215.66 L71.33,215.10 L71.80,214.52 L72.27,213.94 L72.73,213.34 L73.18,212.74 L73.63,212.14 L74.07,211.54 L74.50,210.92 L74.92,210.31 L75.34,209.68 L75.75,209.05 L76.16,208.42 L76.56,207.79 L76.96,207.16 L77.37,206.53 L77.78,205.90 L78.19,205.27 L78.60,204.64 L79.01,204.02 L79.42,203.39 L79.83,202.76 L80.25,202.14 L80.66,201.51 L81.09,200.89 L81.52,200.28 L81.96,199.68 L82.42,199.08 L82.89,198.50 L83.37,197.93 L83.87,197.37 L84.38,196.82 L84.90,196.27 L85.41,195.73 L85.93,195.19 L86.44,194.63 L86.94,194.08 L87.43,193.51 L87.92,192.94 L88.39,192.36 L88.87,191.78 L89.33,191.19 L89.78,190.59 L90.21,189.98 L90.63,189.36 L91.03,188.72 L91.41,188.08 L91.77,187.42 L92.12,186.76 L92.45,186.09 L92.78,185.41 L93.10,184.74 L93.42,184.06 L93.74,183.38 L94.06,182.70 L94.39,182.03 L94.71,181.35 L95.03,180.67 L95.34,179.99 L95.66,179.31 L95.97,178.63 L96.29,177.95 L96.61,177.27 L96.94,176.59 L97.27,175.92 L97.61,175.26 L97.96,174.59 L98.32,173.93 L98.69,173.28 L99.06,172.63 L99.45,171.99 L99.86,171.36 L100.29,170.76 L100.76,170.18 L101.27,169.63 L101.81,169.13 L102.38,168.69 L103.00,168.37 L103.65,168.19 L104.31,168.20 L104.96,168.40 L105.58,168.73 L106.18,169.15 L106.75,169.63 L107.29,170.14 L107.82,170.67 L108.32,171.23 L108.79,171.81 L109.25,172.40 L109.69,173.00 L110.12,173.62 L110.55,174.24 L110.96,174.86 L111.36,175.50 L111.74,176.14 L112.11,176.79 L112.47,177.45 L112.82,178.11 L113.17,178.78 L113.53,179.43 L113.92,180.07 L114.34,180.68 L114.80,181.28 L115.28,181.84 L115.80,182.36 L116.36,182.81 L116.96,183.15 L117.60,183.32 L118.27,183.30 L118.92,183.11 L119.55,182.78 L120.12,182.34 L120.63,181.82 L121.08,181.24 L121.47,180.61 L121.81,179.95 L122.12,179.27 L122.40,178.58 L122.68,177.88 L122.95,177.18 L123.22,176.49 L123.49,175.79 L123.77,175.09 L124.06,174.40 L124.35,173.70 L124.64,173.02 L124.94,172.33 L125.23,171.64 L125.53,170.95 L125.82,170.25 L126.10,169.56 L126.38,168.86 L126.64,168.16 L126.90,167.46 L127.15,166.75 L127.39,166.04 L127.63,165.33 L127.85,164.61 L128.06,163.89 L128.25,163.17 L128.44,162.44 L128.62,161.72 L128.79,160.99 L128.96,160.25 L129.12,159.52 L129.28,158.79 L129.44,158.06 L129.59,157.32 L129.74,156.59 L129.90,155.85 L130.05,155.12 L130.21,154.39 L130.36,153.65 L130.52,152.92 L130.67,152.19 L130.83,151.45 L130.98,150.72 L131.14,149.98 L131.29,149.25 L131.44,148.52 L131.60,147.78 L131.75,147.05 L131.90,146.31 L132.05,145.58 L132.20,144.84 L132.35,144.11 L132.50,143.37 L132.65,142.64 L132.80,141.90 L132.96,141.17 L133.11,140.43 L133.26,139.70 L133.42,138.97 L133.57,138.23 L133.73,137.50 L133.88,136.77 L134.04,136.03 L134.19,135.30 L134.35,134.56 L134.51,133.83 L134.66,133.10 L134.82,132.36 L134.97,131.63 L135.13,130.90 L135.29,130.16 L135.44,129.43 L135.60,128.70 L135.76,127.96 L135.92,127.23 L136.08,126.50 L136.24,125.76 L136.39,125.03 L136.55,124.30 L136.71,123.57 L136.87,122.83 L137.04,122.10 L137.20,121.37 L137.36,120.64 L137.52,119.90 L137.68,119.17 L137.84,118.44 L138.01,117.71 L138.17,116.97 L138.33,116.24 L138.49,115.51 L138.65,114.78 L138.81,114.04 L138.97,113.31 L139.13,112.58 L139.29,111.85 L139.45,111.11 L139.61,110.38 L139.78,109.65 L139.94,108.92 L140.10,108.19 L140.27,107.45 L140.44,106.72 L140.61,105.99 L140.78,105.26 L140.96,104.53 L141.13,103.80 L141.31,103.08 L141.49,102.35 L141.68,101.62 L141.87,100.90 L142.06,100.17 L142.25,99.45 L142.45,98.72 L142.65,98.00 L142.85,97.28 L143.05,96.55 L143.25,95.83 L143.46,95.11 L143.67,94.39 L143.88,93.67 L144.11,92.96 L144.33,92.24 L144.57,91.53 L144.82,90.82 L145.08,90.12 L145.35,89.42 L145.63,88.73 L145.93,88.04 L146.24,87.36 L146.56,86.68 L146.90,86.01 L147.26,85.36 L147.65,84.73 L148.09,84.13 L148.58,83.58 L149.12,83.08 L149.71,82.68 L150.35,82.38 L151.01,82.25 L151.68,82.29 L152.34,82.50 L152.97,82.84 L153.57,83.26 L154.12,83.75 L154.63,84.29 L155.09,84.87 L155.52,85.49 L155.92,86.12 L156.29,86.77 L156.66,87.42 L157.01,88.08 L157.36,88.75 L157.70,89.41 L158.03,90.09 L158.36,90.76 L158.67,91.44 L158.98,92.13 L159.27,92.82 L159.56,93.51 L159.85,94.20 L160.12,94.90 L160.40,95.60 L160.66,96.30 L160.93,97.00 L161.18,97.71 L161.44,98.41 L161.69,99.12 L161.93,99.83 L162.17,100.54 L162.41,101.25 L162.64,101.96 L162.86,102.68 L163.08,103.40 L163.30,104.11 L163.51,104.83 L163.72,105.55 L163.93,106.27 L164.13,107.00 L164.33,107.72 L164.52,108.44 L164.72,109.17 L164.91,109.89 L165.11,110.62 L165.30,111.34 L165.49,112.07 L165.67,112.79 L165.86,113.52 L166.05,114.25 L166.23,114.97 L166.42,115.70 L166.60,116.43 L166.79,117.15 L166.97,117.88 L167.15,118.61 L167.33,119.34 L167.51,120.07 L167.69,120.79 L167.86,121.52 L168.03,122.25 L168.21,122.98 L168.38,123.71 L168.55,124.44 L168.71,125.18 L168.88,125.91 L169.05,126.64 L169.21,127.37 L169.38,128.10 L169.54,128.83 L169.70,129.57 L169.87,130.30 L170.03,131.03 L170.19,131.76 L170.35,132.49 L170.51,133.23 L170.67,133.96 L170.84,134.69 L171.00,135.42 L171.16,136.16 L171.32,136.89 L171.48,137.62 L171.64,138.36 L171.80,139.09 L171.96,139.82 L172.12,140.55 L172.28,141.29 L172.44,142.02 L172.60,142.75 L172.76,143.48 L172.92,144.22 L173.08,144.95 L173.24,145.68 L173.39,146.42 L173.55,147.15 L173.71,147.88 L173.87,148.62 L174.02,149.35 L174.18,150.08 L174.33,150.82 L174.49,151.55 L174.65,152.28 L174.80,153.02 L174.96,153.75 L175.11,154.48 L175.27,155.22 L175.43,155.95 L175.58,156.69 L175.74,157.42 L175.89,158.15 L176.05,158.89 L176.20,159.62 L176.36,160.35 L176.52,161.09 L176.67,161.82 L176.83,162.56 L176.98,163.29 L177.14,164.02 L177.29,164.76 L177.45,165.49 L177.60,166.22 L177.76,166.96 L177.91,167.69 L178.07,168.43 L178.22,169.16 L178.38,169.89 L178.53,170.63 L178.68,171.36 L178.84,172.10 L178.99,172.83 L179.14,173.56 L179.29,174.30 L179.45,175.03 L179.60,175.77 L179.75,176.50 L179.91,177.24 L180.06,177.97 L180.22,178.70 L180.38,179.44 L180.54,180.17 L180.70,180.90 L180.86,181.63 L181.03,182.36 L181.20,183.09 L181.36,183.83 L181.53,184.56 L181.70,185.29 L181.87,186.02 L182.04,186.75 L182.22,187.48 L182.39,188.21 L182.57,188.93 L182.75,189.66 L182.94,190.39 L183.13,191.11 L183.33,191.84 L183.53,192.56 L183.74,193.28 L183.96,194.00 L184.18,194.71 L184.40,195.43 L184.63,196.14 L184.86,196.86 L185.10,197.57 L185.34,198.28 L185.59,198.99 L185.84,199.69 L186.10,200.40 L186.38,201.09 L186.66,201.79 L186.95,202.48 L187.26,203.16 L187.59,203.83 L187.94,204.50 L188.29,205.16 L188.66,205.81 L189.05,206.45 L189.44,207.09 L189.84,207.72 L190.26,208.34 L190.70,208.96 L191.15,209.55 L191.62,210.14 L192.11,210.70 L192.63,211.24 L193.17,211.75 L193.74,212.24 L194.33,212.69 L194.94,213.12 L195.57,213.53 L196.21,213.91 L196.87,214.27 L197.54,214.61 L198.22,214.93 L198.90,215.23 L199.60,215.51 L200.30,215.77 L201.01,216.02 L201.72,216.26 L202.43,216.48 L203.15,216.69 L203.88,216.89 L204.60,217.09 L205.32,217.28 L206.05,217.47 L206.77,217.66 L207.50,217.85 L208.23,218.03 L208.96,218.20 L209.69,218.36 L210.42,218.51 L211.16,218.65 L211.90,218.76 L212.64,218.87 L213.39,218.97 L214.13,219.06 L214.88,219.14 L215.62,219.22 L216.37,219.29 L217.12,219.35 L217.86,219.41 L218.61,219.47 L219.36,219.52 L220.11,219.56 L220.86,219.60 L221.61,219.63 L222.36,219.66 L223.11,219.70 L223.86,219.73 L224.61,219.75 L225.35,219.78 L226.10,219.81 L226.85,219.83 L227.60,219.86 L228.35,219.88 L229.10,219.91 L229.85,219.93 L230.60,219.95 L231.35,219.97 L232.10,219.99 L232.85,220.00 L233.60,220.02 L234.35,220.03 L235.10,220.05 L235.85,220.06 L236.60,220.07 L237.35,220.08 L238.10,220.09 L238.85,220.09 L239.60,220.10 L240.35,220.10 L241.10,220.10 L241.85,220.11 L242.60,220.11 L243.35,220.11 L244.10,220.11 L244.85,220.12 L245.60,220.12 L246.35,220.12 L247.10,220.12 L247.85,220.13 L248.60,220.13 L249.35,220.13 L250.10,220.13 L250.85,220.13 L251.60,220.14 L252.35,220.14 L253.10,220.14 L253.85,220.14 L254.60,220.15 L255.35,220.15 L256.10,220.15 L256.85,220.15 L257.60,220.15 L258.35,220.15 L259.10,220.16 L259.85,220.16 L260.60,220.16 L261.35,220.16 L262.10,220.16 L262.85,220.16 L263.60,220.17 L264.35,220.17 L265.10,220.17 L265.85,220.17 L266.60,220.17 L267.35,220.17 L268.10,220.17 L268.85,220.17 L269.60,220.18 L270.35,220.18 L271.10,220.18 L271.85,220.18 L272.60,220.18 L273.35,220.18 L274.10,220.18 L274.85,220.18 L275.60,220.18 L276.35,220.19 L277.10,220.19 L277.85,220.19 L278.60,220.19 L279.35,220.19 L280.10,220.19 L280.85,220.19 L281.60,220.19 L282.35,220.19 L283.10,220.19 L283.85,220.19 L284.60,220.19 L285.35,220.19 L286.10,220.19 L286.85,220.20 L287.60,220.20 L288.35,220.20 L289.10,220.20 L289.85,220.20 L290.60,220.20 L291.35,220.20 L292.10,220.20 L292.85,220.20 L293.60,220.20 L294.35,220.20 L295.10,220.20 L295.85,220.20 L296.60,220.20 L297.35,220.20 L298.10,220.20 L298.85,220.20 L299.60,220.20 L300.35,220.20 L301.10,220.20" fill="none" stroke="#2aa05a" stroke-width="2.4" stroke-linejoin="round" stroke-linecap="round"/>
<path d="M57.75,220.20 L58.50,220.20 L59.25,220.20 L60.00,220.20 L60.75,220.20 L61.50,220.19 L62.25,220.19 L63.00,220.19 L63.75,220.18 L64.50,220.18 L65.25,220.17 L66.00,220.17 L66.75,220.16 L67.50,220.15 L68.25,220.15 L69.00,220.14 L69.75,220.13 L70.50,220.12 L71.25,220.10 L72.00,220.08 L72.75,220.05 L73.49,219.99 L74.24,219.92 L74.98,219.82 L75.72,219.69 L76.44,219.52 L77.15,219.30 L77.85,219.04 L78.54,218.74 L79.20,218.40 L79.85,218.02 L80.47,217.61 L81.06,217.16 L81.62,216.67 L82.15,216.15 L82.64,215.59 L83.09,215.00 L83.49,214.37 L83.86,213.72 L84.19,213.05 L84.50,212.37 L84.80,211.68 L85.09,210.99 L85.37,210.30 L85.65,209.60 L85.93,208.90 L86.20,208.20 L86.47,207.50 L86.73,206.80 L86.98,206.09 L87.23,205.39 L87.47,204.68 L87.71,203.96 L87.94,203.25 L88.16,202.54 L88.39,201.82 L88.61,201.11 L88.84,200.39 L89.06,199.67 L89.29,198.96 L89.51,198.24 L89.73,197.53 L89.95,196.81 L90.17,196.09 L90.39,195.37 L90.60,194.65 L90.82,193.94 L91.03,193.22 L91.25,192.50 L91.47,191.78 L91.69,191.06 L91.91,190.35 L92.14,189.63 L92.37,188.92 L92.61,188.21 L92.85,187.50 L93.09,186.79 L93.34,186.08 L93.60,185.38 L93.85,184.67 L94.11,183.97 L94.37,183.27 L94.64,182.56 L94.90,181.86 L95.16,181.16 L95.43,180.46 L95.69,179.76 L95.95,179.05 L96.22,178.35 L96.48,177.65 L96.74,176.95 L97.01,176.24 L97.28,175.54 L97.55,174.85 L97.83,174.15 L98.11,173.45 L98.39,172.76 L98.69,172.07 L98.98,171.38 L99.28,170.69 L99.58,170.01 L99.90,169.33 L100.24,168.66 L100.61,168.02 L101.02,167.39 L101.46,166.80 L101.95,166.25 L102.48,165.79 L103.05,165.47 L103.67,165.35 L104.30,165.44 L104.91,165.72 L105.49,166.13 L106.05,166.61 L106.58,167.13 L107.09,167.67 L107.59,168.24 L108.06,168.82 L108.52,169.41 L108.96,170.02 L109.39,170.63 L109.81,171.25 L110.23,171.87 L110.65,172.49 L111.06,173.12 L111.46,173.75 L111.86,174.39 L112.25,175.03 L112.63,175.67 L113.02,176.32 L113.42,176.95 L113.84,177.56 L114.29,178.16 L114.78,178.72 L115.30,179.24 L115.86,179.69 L116.46,180.03 L117.10,180.21 L117.76,180.19 L118.41,180.00 L119.01,179.65 L119.57,179.19 L120.05,178.65 L120.45,178.04 L120.79,177.39 L121.08,176.70 L121.34,176.00 L121.58,175.29 L121.82,174.58 L122.05,173.87 L122.29,173.16 L122.53,172.45 L122.77,171.74 L123.01,171.03 L123.26,170.32 L123.50,169.61 L123.74,168.90 L123.97,168.19 L124.20,167.47 L124.42,166.76 L124.64,166.04 L124.85,165.32 L125.06,164.60 L125.27,163.88 L125.46,163.15 L125.66,162.43 L125.85,161.70 L126.03,160.98 L126.21,160.25 L126.39,159.52 L126.56,158.79 L126.74,158.06 L126.91,157.33 L127.08,156.60 L127.25,155.87 L127.41,155.14 L127.58,154.41 L127.74,153.67 L127.90,152.94 L128.06,152.21 L128.22,151.48 L128.37,150.74 L128.52,150.01 L128.67,149.27 L128.81,148.54 L128.96,147.80 L129.10,147.06 L129.25,146.33 L129.39,145.59 L129.53,144.85 L129.67,144.12 L129.82,143.38 L129.96,142.65 L130.11,141.91 L130.26,141.18 L130.41,140.44 L130.57,139.71 L130.72,138.97 L130.88,138.24 L131.04,137.51 L131.20,136.78 L131.36,136.04 L131.52,135.31 L131.69,134.58 L131.85,133.85 L132.02,133.12 L132.18,132.38 L132.35,131.65 L132.52,130.92 L132.69,130.19 L132.85,129.46 L133.02,128.73 L133.19,128.00 L133.36,127.27 L133.53,126.54 L133.70,125.81 L133.87,125.08 L134.03,124.34 L134.20,123.61 L134.37,122.88 L134.53,122.15 L134.69,121.42 L134.86,120.69 L135.02,119.95 L135.18,119.22 L135.34,118.49 L135.50,117.75 L135.65,117.02 L135.81,116.29 L135.96,115.55 L136.11,114.82 L136.26,114.08 L136.41,113.35 L136.56,112.61 L136.71,111.88 L136.86,111.14 L137.01,110.41 L137.16,109.68 L137.31,108.94 L137.47,108.21 L137.62,107.47 L137.77,106.74 L137.93,106.00 L138.09,105.27 L138.25,104.54 L138.41,103.81 L138.57,103.07 L138.74,102.34 L138.91,101.61 L139.09,100.88 L139.27,100.16 L139.45,99.43 L139.63,98.70 L139.82,97.97 L140.00,97.25 L140.19,96.52 L140.38,95.80 L140.58,95.07 L140.77,94.35 L140.97,93.63 L141.18,92.90 L141.39,92.18 L141.60,91.47 L141.82,90.75 L142.05,90.04 L142.30,89.33 L142.55,88.62 L142.81,87.92 L143.08,87.22 L143.36,86.52 L143.65,85.83 L143.94,85.14 L144.25,84.46 L144.58,83.79 L144.94,83.13 L145.34,82.51 L145.78,81.91 L146.28,81.36 L146.82,80.85 L147.40,80.40 L148.02,80.02 L148.67,79.75 L149.35,79.62 L150.03,79.65 L150.70,79.84 L151.33,80.17 L151.92,80.60 L152.46,81.09 L152.96,81.64 L153.40,82.24 L153.78,82.87 L154.12,83.53 L154.43,84.21 L154.71,84.91 L154.98,85.61 L155.24,86.31 L155.49,87.01 L155.75,87.72 L156.01,88.42 L156.27,89.13 L156.53,89.83 L156.79,90.53 L157.05,91.24 L157.31,91.94 L157.56,92.65 L157.81,93.35 L158.06,94.06 L158.31,94.77 L158.55,95.48 L158.78,96.19 L159.02,96.90 L159.25,97.62 L159.48,98.33 L159.70,99.05 L159.92,99.76 L160.14,100.48 L160.35,101.20 L160.57,101.92 L160.77,102.64 L160.98,103.36 L161.18,104.08 L161.38,104.81 L161.58,105.53 L161.78,106.25 L161.97,106.98 L162.16,107.70 L162.35,108.43 L162.54,109.16 L162.73,109.88 L162.91,110.61 L163.10,111.34 L163.28,112.06 L163.46,112.79 L163.64,113.52 L163.82,114.25 L164.00,114.97 L164.18,115.70 L164.36,116.43 L164.54,117.16 L164.71,117.89 L164.89,118.62 L165.06,119.35 L165.24,120.08 L165.41,120.81 L165.58,121.54 L165.75,122.27 L165.91,123.00 L166.08,123.73 L166.25,124.46 L166.41,125.19 L166.58,125.93 L166.74,126.66 L166.90,127.39 L167.06,128.12 L167.23,128.85 L167.39,129.59 L167.55,130.32 L167.70,131.05 L167.86,131.79 L168.02,132.52 L168.18,133.25 L168.33,133.99 L168.49,134.72 L168.65,135.45 L168.80,136.19 L168.96,136.92 L169.11,137.65 L169.26,138.39 L169.42,139.12 L169.57,139.86 L169.72,140.59 L169.87,141.33 L170.02,142.06 L170.17,142.80 L170.32,143.53 L170.47,144.27 L170.62,145.00 L170.76,145.74 L170.91,146.47 L171.06,147.21 L171.20,147.94 L171.35,148.68 L171.49,149.42 L171.63,150.15 L171.78,150.89 L171.92,151.63 L172.06,152.36 L172.20,153.10 L172.34,153.83 L172.48,154.57 L172.62,155.31 L172.76,156.04 L172.90,156.78 L173.04,157.52 L173.18,158.26 L173.32,158.99 L173.46,159.73 L173.60,160.47 L173.74,161.20 L173.88,161.94 L174.01,162.68 L174.15,163.42 L174.28,164.15 L174.41,164.89 L174.54,165.63 L174.67,166.37 L174.80,167.11 L174.93,167.85 L175.06,168.59 L175.19,169.32 L175.33,170.06 L175.46,170.80 L175.60,171.54 L175.74,172.27 L175.89,173.01 L176.04,173.74 L176.19,174.48 L176.35,175.21 L176.51,175.94 L176.68,176.67 L176.85,177.41 L177.02,178.14 L177.19,178.86 L177.37,179.59 L177.55,180.32 L177.73,181.05 L177.91,181.78 L178.10,182.50 L178.28,183.23 L178.46,183.96 L178.64,184.69 L178.83,185.41 L179.01,186.14 L179.19,186.87 L179.37,187.60 L179.54,188.33 L179.72,189.06 L179.90,189.78 L180.08,190.51 L180.26,191.24 L180.44,191.97 L180.62,192.70 L180.81,193.42 L181.00,194.15 L181.20,194.87 L181.40,195.59 L181.61,196.31 L181.83,197.03 L182.05,197.75 L182.28,198.46 L182.51,199.17 L182.75,199.88 L182.99,200.59 L183.24,201.30 L183.49,202.01 L183.75,202.71 L184.02,203.41 L184.29,204.11 L184.59,204.80 L184.89,205.48 L185.22,206.16 L185.57,206.82 L185.95,207.47 L186.34,208.10 L186.75,208.73 L187.18,209.34 L187.63,209.95 L188.09,210.54 L188.57,211.11 L189.06,211.67 L189.58,212.21 L190.12,212.73 L190.67,213.23 L191.25,213.71 L191.85,214.16 L192.46,214.59 L193.09,215.00 L193.72,215.40 L194.37,215.78 L195.02,216.14 L195.69,216.49 L196.36,216.81 L197.05,217.11 L197.74,217.39 L198.45,217.64 L199.16,217.87 L199.88,218.07 L200.61,218.25 L201.34,218.42 L202.07,218.57 L202.81,218.71 L203.55,218.83 L204.29,218.94 L205.04,219.04 L205.78,219.13 L206.53,219.21 L207.27,219.29 L208.02,219.36 L208.76,219.42 L209.51,219.49 L210.26,219.55 L211.01,219.60 L211.76,219.65 L212.51,219.69 L213.25,219.73 L214.00,219.76 L214.75,219.79 L215.50,219.81 L216.25,219.83 L217.00,219.85 L217.75,219.87 L218.50,219.89 L219.25,219.90 L220.00,219.92 L220.75,219.93 L221.50,219.95 L222.25,219.96 L223.00,219.98 L223.75,219.99 L224.50,220.00 L225.25,220.01 L226.00,220.02 L226.75,220.03 L227.50,220.04 L228.25,220.05 L229.00,220.06 L229.75,220.07 L230.50,220.07 L231.25,220.08 L232.00,220.08 L232.75,220.09 L233.50,220.09 L234.25,220.10 L235.00,220.10 L235.75,220.10 L236.50,220.10 L237.25,220.11 L238.00,220.11 L238.75,220.11 L239.50,220.11 L240.25,220.12 L241.00,220.12 L241.75,220.12 L242.50,220.12 L243.25,220.12 L244.00,220.13 L244.75,220.13 L245.50,220.13 L246.25,220.13 L247.00,220.13 L247.75,220.14 L248.50,220.14 L249.25,220.14 L250.00,220.14 L250.75,220.14 L251.50,220.15 L252.25,220.15 L253.00,220.15 L253.75,220.15 L254.50,220.15 L255.25,220.15 L256.00,220.16 L256.75,220.16 L257.50,220.16 L258.25,220.16 L259.00,220.16 L259.75,220.16 L260.50,220.16 L261.25,220.17 L262.00,220.17 L262.75,220.17 L263.50,220.17 L264.25,220.17 L265.00,220.17 L265.75,220.17 L266.50,220.17 L267.25,220.18 L268.00,220.18 L268.75,220.18 L269.50,220.18 L270.25,220.18 L271.00,220.18 L271.75,220.18 L272.50,220.18 L273.25,220.18 L274.00,220.18 L274.75,220.19 L275.50,220.19 L276.25,220.19 L277.00,220.19 L277.75,220.19 L278.50,220.19 L279.25,220.19 L280.00,220.19 L280.75,220.19 L281.50,220.19 L282.25,220.19 L283.00,220.19 L283.75,220.19 L284.50,220.19 L285.25,220.19 L286.00,220.20 L286.75,220.20 L287.50,220.20 L288.25,220.20 L289.00,220.20 L289.75,220.20 L290.50,220.20 L291.25,220.20 L292.00,220.20 L292.75,220.20 L293.50,220.20 L294.25,220.20 L295.00,220.20 L295.75,220.20 L296.50,220.20 L297.25,220.20 L298.00,220.20 L298.75,220.20 L299.50,220.20 L300.25,220.20 L301.00,220.20" fill="none" stroke="#a96fdc" stroke-width="2.4" stroke-linejoin="round" stroke-linecap="round"/>
<path d="M57.50,220.20 L58.25,220.20 L59.00,220.20 L59.75,220.20 L60.50,220.20 L61.25,220.20 L62.00,220.20 L62.75,220.20 L63.50,220.20 L64.25,220.20 L65.00,220.20 L65.75,220.20 L66.50,220.20 L67.25,220.20 L68.00,220.20 L68.75,220.20 L69.50,220.20 L70.25,220.20 L71.00,220.20 L71.75,220.20 L72.50,220.20 L73.25,220.20 L74.00,220.20 L74.75,220.20 L75.50,220.20 L76.25,220.20 L77.00,220.20 L77.75,220.20 L78.50,220.20 L79.25,220.20 L80.00,220.20 L80.75,220.20 L81.50,220.20 L82.25,220.20 L83.00,220.20 L83.75,220.20 L84.50,220.20 L85.25,220.20 L86.00,220.20 L86.75,220.20 L87.50,220.20 L88.25,220.20 L89.00,220.20 L89.75,220.20 L90.50,220.20 L91.25,220.20 L92.00,220.20 L92.75,220.20 L93.50,220.20 L94.25,220.20 L95.00,220.20 L95.75,220.20 L96.50,220.20 L97.25,220.20 L98.00,220.20 L98.75,220.20 L99.50,220.20 L100.25,220.20 L101.00,220.20 L101.75,220.20 L102.50,220.20 L103.25,220.20 L104.00,220.20 L104.75,220.20 L105.50,220.20 L106.25,220.20 L107.00,220.20 L107.75,220.20 L108.50,220.20 L109.25,220.20 L110.00,220.20 L110.75,220.20 L111.50,220.20 L112.25,220.20 L113.00,220.20 L113.75,220.20 L114.50,220.20 L115.25,220.20 L116.00,220.20 L116.75,220.20 L117.50,220.19 L118.25,220.18 L119.00,220.15 L119.75,220.11 L120.49,220.05 L121.24,219.97 L121.98,219.88 L122.73,219.78 L123.46,219.66 L124.20,219.51 L124.93,219.34 L125.65,219.14 L126.36,218.90 L127.06,218.65 L127.76,218.37 L128.45,218.08 L129.14,217.79 L129.83,217.50 L130.52,217.20 L131.21,216.90 L131.89,216.59 L132.57,216.27 L133.24,215.94 L133.90,215.59 L134.56,215.23 L135.21,214.85 L135.84,214.46 L136.47,214.05 L137.09,213.63 L137.69,213.18 L138.28,212.72 L138.85,212.23 L139.40,211.72 L139.92,211.19 L140.42,210.63 L140.88,210.05 L141.32,209.45 L141.74,208.83 L142.15,208.19 L142.54,207.55 L142.92,206.91 L143.29,206.26 L143.65,205.60 L143.99,204.93 L144.33,204.26 L144.65,203.59 L144.97,202.91 L145.27,202.22 L145.56,201.53 L145.85,200.84 L146.12,200.14 L146.39,199.44 L146.65,198.73 L146.90,198.03 L147.15,197.32 L147.40,196.61 L147.65,195.90 L147.89,195.20 L148.14,194.49 L148.39,193.78 L148.65,193.08 L148.91,192.37 L149.17,191.67 L149.43,190.97 L149.70,190.27 L149.97,189.57 L150.24,188.87 L150.51,188.17 L150.78,187.47 L151.05,186.77 L151.33,186.07 L151.60,185.37 L151.87,184.67 L152.14,183.97 L152.41,183.27 L152.68,182.57 L152.94,181.87 L153.20,181.17 L153.47,180.47 L153.73,179.76 L153.99,179.06 L154.26,178.36 L154.53,177.66 L154.80,176.96 L155.07,176.26 L155.35,175.56 L155.62,174.87 L155.89,174.17 L156.15,173.46 L156.41,172.76 L156.66,172.05 L156.91,171.35 L157.15,170.64 L157.39,169.92 L157.61,169.21 L157.83,168.49 L158.04,167.77 L158.25,167.05 L158.44,166.33 L158.63,165.60 L158.80,164.87 L158.96,164.14 L159.11,163.40 L159.25,162.67 L159.37,161.93 L159.50,161.19 L159.62,160.45 L159.74,159.71 L159.86,158.97 L159.99,158.23 L160.14,157.50 L160.30,156.76 L160.49,156.04 L160.70,155.32 L160.94,154.61 L161.21,153.91 L161.50,153.22 L161.81,152.54 L162.15,151.87 L162.50,151.21 L162.87,150.56 L163.25,149.91 L163.64,149.27 L164.04,148.64 L164.45,148.02 L164.89,147.41 L165.34,146.81 L165.81,146.23 L166.31,145.67 L166.82,145.13 L167.36,144.61 L167.93,144.13 L168.53,143.69 L169.16,143.30 L169.82,142.98 L170.51,142.72 L171.23,142.52 L171.95,142.40 L172.68,142.36 L173.41,142.42 L174.13,142.56 L174.84,142.78 L175.52,143.07 L176.18,143.41 L176.80,143.81 L177.40,144.25 L177.97,144.74 L178.51,145.25 L179.02,145.79 L179.52,146.35 L179.99,146.93 L180.45,147.53 L180.87,148.14 L181.28,148.77 L181.65,149.42 L182.00,150.08 L182.32,150.76 L182.62,151.44 L182.90,152.14 L183.17,152.84 L183.43,153.54 L183.68,154.25 L183.93,154.95 L184.18,155.66 L184.44,156.37 L184.70,157.07 L184.96,157.77 L185.24,158.47 L185.52,159.16 L185.82,159.85 L186.11,160.54 L186.41,161.23 L186.72,161.91 L187.03,162.60 L187.34,163.28 L187.65,163.96 L187.97,164.64 L188.29,165.32 L188.62,165.99 L188.94,166.67 L189.28,167.34 L189.61,168.01 L189.96,168.68 L190.30,169.34 L190.65,170.01 L191.01,170.67 L191.37,171.32 L191.73,171.98 L192.10,172.63 L192.47,173.29 L192.84,173.94 L193.21,174.59 L193.58,175.25 L193.94,175.90 L194.31,176.55 L194.68,177.21 L195.04,177.86 L195.40,178.52 L195.76,179.18 L196.11,179.84 L196.47,180.50 L196.84,181.15 L197.21,181.80 L197.59,182.45 L197.98,183.09 L198.38,183.73 L198.78,184.36 L199.19,184.99 L199.61,185.61 L200.02,186.24 L200.43,186.87 L200.83,187.50 L201.23,188.13 L201.63,188.77 L202.03,189.41 L202.42,190.04 L202.83,190.67 L203.24,191.30 L203.66,191.92 L204.11,192.52 L204.57,193.10 L205.07,193.67 L205.59,194.20 L206.14,194.71 L206.71,195.19 L207.29,195.65 L207.90,196.09 L208.52,196.51 L209.16,196.90 L209.82,197.26 L210.49,197.59 L211.17,197.89 L211.87,198.17 L212.57,198.42 L213.28,198.64 L214.01,198.81 L214.74,198.92 L215.47,198.96 L216.21,198.93 L216.94,198.81 L217.66,198.63 L218.36,198.39 L219.06,198.12 L219.74,197.82 L220.42,197.49 L221.07,197.13 L221.71,196.75 L222.33,196.32 L222.92,195.87 L223.49,195.38 L224.04,194.88 L224.58,194.36 L225.10,193.82 L225.62,193.28 L226.12,192.72 L226.62,192.16 L227.12,191.60 L227.61,191.03 L228.09,190.46 L228.57,189.88 L229.04,189.30 L229.50,188.71 L229.94,188.10 L230.38,187.49 L230.80,186.88 L231.22,186.25 L231.64,185.63 L232.05,185.00 L232.46,184.38 L232.87,183.75 L233.29,183.12 L233.70,182.50 L234.11,181.87 L234.52,181.24 L234.93,180.61 L235.34,179.99 L235.75,179.35 L236.15,178.72 L236.56,178.09 L236.96,177.46 L237.37,176.83 L237.78,176.20 L238.19,175.58 L238.60,174.95 L239.02,174.33 L239.44,173.70 L239.85,173.08 L240.27,172.46 L240.69,171.84 L241.12,171.22 L241.54,170.60 L241.97,169.98 L242.40,169.37 L242.84,168.76 L243.29,168.16 L243.74,167.56 L244.20,166.97 L244.67,166.39 L245.15,165.81 L245.64,165.24 L246.13,164.67 L246.63,164.11 L247.13,163.55 L247.63,163.00 L248.13,162.44 L248.63,161.88 L249.12,161.31 L249.61,160.74 L250.09,160.17 L250.56,159.58 L251.02,159.00 L251.48,158.40 L251.94,157.81 L252.39,157.21 L252.84,156.61 L253.29,156.01 L253.76,155.42 L254.22,154.84 L254.70,154.26 L255.20,153.70 L255.71,153.15 L256.23,152.61 L256.77,152.09 L257.31,151.57 L257.87,151.07 L258.43,150.58 L259.01,150.10 L259.59,149.63 L260.19,149.18 L260.81,148.75 L261.43,148.34 L262.07,147.96 L262.73,147.59 L263.39,147.25 L264.07,146.93 L264.76,146.63 L265.46,146.37 L266.17,146.14 L266.89,145.95 L267.62,145.78 L268.35,145.64 L269.09,145.52 L269.84,145.43 L270.58,145.38 L271.33,145.37 L272.07,145.39 L272.82,145.46 L273.56,145.55 L274.30,145.67 L275.03,145.83 L275.75,146.01 L276.46,146.24 L277.15,146.51 L277.83,146.83 L278.49,147.19 L279.13,147.56 L279.78,147.94 L280.42,148.33 L281.06,148.72 L281.70,149.11 L282.34,149.50 L282.97,149.90 L283.60,150.31 L284.23,150.73 L284.84,151.15 L285.46,151.58 L286.07,152.02 L286.68,152.46 L287.28,152.91 L287.88,153.36 L288.47,153.81 L289.07,154.27 L289.66,154.73 L290.25,155.19 L290.84,155.66 L291.42,156.13 L292.01,156.60 L292.59,157.07 L293.17,157.55 L293.74,158.03 L294.32,158.51 L294.88,159.01 L295.44,159.51 L295.98,160.02 L296.52,160.55 L297.04,161.08 L297.55,161.63 L298.06,162.18 L298.57,162.73 L299.08,163.28 L299.59,163.83 L300.11,164.35 L300.65,164.82 L301.24,165.21" fill="none" stroke="#cc9507" stroke-width="2.4" stroke-linejoin="round" stroke-linecap="round"/>
<line x1="57.0" y1="6.3" x2="57.0" y2="223.45999999999998" stroke="#555" stroke-width="1.9"/>
<line x1="325.4" y1="6.3" x2="325.4" y2="223.45999999999998" stroke="#404040" stroke-width="1.6"/>
<line x1="56.05" y1="7.0" x2="326.2" y2="7.0" stroke="#404040" stroke-width="1.4"/>
<line x1="56.05" y1="222.76" x2="326.2" y2="222.76" stroke="#404040" stroke-width="1.4"/>
<line x1="52.8" y1="220.00" x2="57.0" y2="220.00" stroke="#404040" stroke-width="1.3"/>
<text x="50.3" y="223.30" text-anchor="end" class="t">0</text>
<line x1="54.6" y1="208.79" x2="57.0" y2="208.79" stroke="#404040" stroke-width="1.3"/>
<line x1="52.8" y1="197.58" x2="57.0" y2="197.58" stroke="#404040" stroke-width="1.3"/>
<text x="50.3" y="200.88" text-anchor="end" class="t">20000</text>
<line x1="54.6" y1="186.38" x2="57.0" y2="186.38" stroke="#404040" stroke-width="1.3"/>
<line x1="52.8" y1="175.17" x2="57.0" y2="175.17" stroke="#404040" stroke-width="1.3"/>
<text x="50.3" y="178.47" text-anchor="end" class="t">40000</text>
<line x1="54.6" y1="163.96" x2="57.0" y2="163.96" stroke="#404040" stroke-width="1.3"/>
<line x1="52.8" y1="152.75" x2="57.0" y2="152.75" stroke="#404040" stroke-width="1.3"/>
<text x="50.3" y="156.05" text-anchor="end" class="t">60000</text>
<line x1="54.6" y1="141.54" x2="57.0" y2="141.54" stroke="#404040" stroke-width="1.3"/>
<line x1="52.8" y1="130.34" x2="57.0" y2="130.34" stroke="#404040" stroke-width="1.3"/>
<text x="50.3" y="133.64" text-anchor="end" class="t">80000</text>
<line x1="54.6" y1="119.13" x2="57.0" y2="119.13" stroke="#404040" stroke-width="1.3"/>
<line x1="52.8" y1="107.92" x2="57.0" y2="107.92" stroke="#404040" stroke-width="1.3"/>
<text x="50.3" y="111.22" text-anchor="end" class="t">100000</text>
<line x1="54.6" y1="96.71" x2="57.0" y2="96.71" stroke="#404040" stroke-width="1.3"/>
<line x1="52.8" y1="85.50" x2="57.0" y2="85.50" stroke="#404040" stroke-width="1.3"/>
<text x="50.3" y="88.80" text-anchor="end" class="t">120000</text>
<line x1="54.6" y1="74.30" x2="57.0" y2="74.30" stroke="#404040" stroke-width="1.3"/>
<line x1="52.8" y1="63.09" x2="57.0" y2="63.09" stroke="#404040" stroke-width="1.3"/>
<text x="50.3" y="66.39" text-anchor="end" class="t">140000</text>
<line x1="54.6" y1="51.88" x2="57.0" y2="51.88" stroke="#404040" stroke-width="1.3"/>
<line x1="52.8" y1="40.67" x2="57.0" y2="40.67" stroke="#404040" stroke-width="1.3"/>
<text x="50.3" y="43.97" text-anchor="end" class="t">160000</text>
<line x1="54.6" y1="29.46" x2="57.0" y2="29.46" stroke="#404040" stroke-width="1.3"/>
<line x1="52.8" y1="18.26" x2="57.0" y2="18.26" stroke="#404040" stroke-width="1.3"/>
<text x="50.3" y="21.56" text-anchor="end" class="t">180000</text>
<line x1="58.30" y1="222.76" x2="58.30" y2="226.66" stroke="#404040" stroke-width="1.4"/>
<text x="58.30" y="238.7" text-anchor="middle" class="t">300</text>
<line x1="106.90" y1="222.76" x2="106.90" y2="226.66" stroke="#404040" stroke-width="1.4"/>
<text x="106.90" y="238.7" text-anchor="middle" class="t">400</text>
<line x1="155.50" y1="222.76" x2="155.50" y2="226.66" stroke="#404040" stroke-width="1.4"/>
<text x="155.50" y="238.7" text-anchor="middle" class="t">500</text>
<line x1="204.10" y1="222.76" x2="204.10" y2="226.66" stroke="#404040" stroke-width="1.4"/>
<text x="204.10" y="238.7" text-anchor="middle" class="t">600</text>
<line x1="252.70" y1="222.76" x2="252.70" y2="226.66" stroke="#404040" stroke-width="1.4"/>
<text x="252.70" y="238.7" text-anchor="middle" class="t">700</text>
<line x1="301.30" y1="222.76" x2="301.30" y2="226.66" stroke="#404040" stroke-width="1.4"/>
<text x="301.30" y="238.7" text-anchor="middle" class="t">800</text>
<line x1="82.60" y1="222.76" x2="82.60" y2="225.1" stroke="#404040" stroke-width="1.4"/>
<line x1="131.20" y1="222.76" x2="131.20" y2="225.1" stroke="#404040" stroke-width="1.4"/>
<line x1="179.80" y1="222.76" x2="179.80" y2="225.1" stroke="#404040" stroke-width="1.4"/>
<line x1="228.40" y1="222.76" x2="228.40" y2="225.1" stroke="#404040" stroke-width="1.4"/>
<line x1="277.00" y1="222.76" x2="277.00" y2="225.1" stroke="#404040" stroke-width="1.4"/>
<line x1="325.60" y1="222.76" x2="325.60" y2="225.1" stroke="#404040" stroke-width="1.4"/>
<text x="80.0" y="43.4" class="pl">(a)</text>
<text transform="translate(12.2,114.9) rotate(-90)" text-anchor="middle" class="ax">Molar absorption coefficient (ε)</text>
<text x="147.0" y="258.1" class="ax" style="font-size:12.5px">Wavelength (<tspan font-style="italic">nm</tspan>)</text>
<rect x="245.5" y="19.3" width="66.5" height="86.0" fill="#fff" stroke="#8a8a8a" stroke-width="1"/>
<line x1="246.6" y1="27.00" x2="272.5" y2="27.00" stroke="#464646" stroke-width="2.2"/>
<text x="274.8" y="30.90" class="t">TPBR1</text>
<line x1="246.6" y1="40.98" x2="272.5" y2="40.98" stroke="#e8363c" stroke-width="2.2"/>
<text x="274.8" y="44.88" class="t">TPBD2</text>
<line x1="246.6" y1="54.96" x2="272.5" y2="54.96" stroke="#1565d8" stroke-width="2.2"/>
<text x="274.8" y="58.86" class="t">TPBD3</text>
<line x1="246.6" y1="68.94" x2="272.5" y2="68.94" stroke="#2aa05a" stroke-width="2.2"/>
<text x="274.8" y="72.84" class="t">TPBD4</text>
<line x1="246.6" y1="82.92" x2="272.5" y2="82.92" stroke="#a96fdc" stroke-width="2.2"/>
<text x="274.8" y="86.82" class="t">TPBD5</text>
<line x1="246.6" y1="96.90" x2="272.5" y2="96.90" stroke="#cc9507" stroke-width="2.2"/>
<text x="274.8" y="100.80" class="t">TPBD6</text>
<path d="M410.60,222.00 L411.35,222.00 L412.10,222.00 L412.85,222.00 L413.60,222.00 L414.35,222.00 L415.10,222.00 L415.85,222.00 L416.60,222.00 L417.35,222.00 L418.10,222.00 L418.85,222.00 L419.60,222.00 L420.35,222.00 L421.10,221.99 L421.85,221.98 L422.60,221.97 L423.35,221.96 L424.10,221.94 L424.85,221.93 L425.60,221.91 L426.35,221.89 L427.10,221.87 L427.85,221.84 L428.60,221.82 L429.35,221.78 L430.10,221.75 L430.84,221.71 L431.59,221.66 L432.34,221.59 L433.08,221.51 L433.82,221.40 L434.56,221.27 L435.30,221.12 L436.03,220.96 L436.76,220.78 L437.48,220.60 L438.21,220.42 L438.94,220.24 L439.67,220.06 L440.39,219.86 L441.11,219.66 L441.83,219.44 L442.54,219.20 L443.24,218.95 L443.94,218.67 L444.63,218.37 L445.30,218.05 L445.97,217.71 L446.63,217.35 L447.27,216.97 L447.90,216.56 L448.51,216.13 L449.11,215.68 L449.68,215.20 L450.24,214.70 L450.78,214.18 L451.30,213.65 L451.81,213.09 L452.30,212.53 L452.78,211.95 L453.24,211.36 L453.68,210.76 L454.11,210.14 L454.52,209.52 L454.92,208.88 L455.31,208.24 L455.69,207.59 L456.07,206.95 L456.45,206.30 L456.83,205.65 L457.21,205.01 L457.58,204.36 L457.96,203.71 L458.32,203.05 L458.69,202.40 L459.06,201.75 L459.43,201.10 L459.82,200.45 L460.21,199.82 L460.63,199.19 L461.05,198.58 L461.50,197.97 L461.96,197.38 L462.43,196.80 L462.92,196.23 L463.43,195.68 L463.96,195.16 L464.52,194.66 L465.10,194.20 L465.71,193.76 L466.34,193.36 L466.98,192.97 L467.64,192.62 L468.31,192.30 L469.00,192.03 L469.71,191.80 L470.43,191.61 L471.17,191.46 L471.91,191.34 L472.65,191.24 L473.39,191.17 L474.14,191.13 L474.89,191.09 L475.64,191.07 L476.39,191.06 L477.14,191.05 L477.89,191.04 L478.64,191.02 L479.39,190.99 L480.13,190.93 L480.87,190.83 L481.60,190.68 L482.31,190.48 L483.02,190.24 L483.71,189.95 L484.37,189.62 L485.01,189.24 L485.62,188.81 L486.19,188.34 L486.74,187.83 L487.26,187.29 L487.76,186.74 L488.26,186.18 L488.75,185.62 L489.24,185.05 L489.73,184.48 L490.22,183.91 L490.69,183.33 L491.16,182.74 L491.62,182.15 L492.06,181.54 L492.49,180.93 L492.91,180.31 L493.31,179.68 L493.70,179.04 L494.07,178.38 L494.43,177.72 L494.76,177.06 L495.09,176.38 L495.40,175.70 L495.71,175.02 L496.01,174.33 L496.31,173.64 L496.60,172.95 L496.89,172.26 L497.18,171.57 L497.47,170.87 L497.76,170.18 L498.05,169.49 L498.34,168.80 L498.62,168.10 L498.89,167.40 L499.16,166.70 L499.41,166.00 L499.66,165.29 L499.89,164.58 L500.11,163.86 L500.33,163.14 L500.53,162.42 L500.72,161.69 L500.90,160.97 L501.08,160.24 L501.26,159.51 L501.43,158.78 L501.59,158.05 L501.76,157.32 L501.92,156.59 L502.08,155.85 L502.24,155.12 L502.40,154.39 L502.56,153.65 L502.71,152.92 L502.87,152.19 L503.02,151.45 L503.17,150.72 L503.31,149.98 L503.46,149.24 L503.60,148.51 L503.74,147.77 L503.87,147.03 L504.01,146.30 L504.15,145.56 L504.29,144.82 L504.42,144.08 L504.56,143.35 L504.70,142.61 L504.84,141.87 L504.98,141.14 L505.13,140.40 L505.27,139.66 L505.42,138.93 L505.56,138.19 L505.71,137.46 L505.86,136.72 L506.02,135.99 L506.17,135.25 L506.32,134.52 L506.47,133.79 L506.63,133.05 L506.78,132.32 L506.94,131.58 L507.09,130.85 L507.24,130.12 L507.40,129.38 L507.55,128.65 L507.70,127.91 L507.86,127.18 L508.01,126.45 L508.16,125.71 L508.31,124.98 L508.46,124.24 L508.62,123.51 L508.77,122.77 L508.92,122.04 L509.07,121.30 L509.22,120.57 L509.37,119.83 L509.52,119.10 L509.67,118.36 L509.82,117.63 L509.97,116.89 L510.12,116.16 L510.28,115.43 L510.43,114.69 L510.58,113.96 L510.74,113.22 L510.90,112.49 L511.06,111.76 L511.22,111.03 L511.38,110.29 L511.54,109.56 L511.71,108.83 L511.87,108.10 L512.04,107.37 L512.21,106.64 L512.38,105.91 L512.54,105.17 L512.71,104.44 L512.88,103.71 L513.04,102.98 L513.20,102.25 L513.37,101.52 L513.52,100.78 L513.68,100.05 L513.84,99.32 L513.99,98.58 L514.14,97.85 L514.29,97.11 L514.44,96.38 L514.59,95.64 L514.73,94.91 L514.88,94.17 L515.02,93.43 L515.17,92.70 L515.31,91.96 L515.45,91.22 L515.59,90.49 L515.73,89.75 L515.87,89.01 L516.01,88.28 L516.15,87.54 L516.28,86.80 L516.42,86.07 L516.56,85.33 L516.69,84.59 L516.82,83.85 L516.96,83.11 L517.09,82.37 L517.21,81.64 L517.34,80.90 L517.46,80.16 L517.59,79.42 L517.71,78.68 L517.84,77.94 L517.96,77.20 L518.09,76.46 L518.22,75.72 L518.34,74.98 L518.48,74.24 L518.61,73.51 L518.75,72.77 L518.89,72.03 L519.03,71.29 L519.18,70.56 L519.32,69.82 L519.47,69.09 L519.62,68.35 L519.77,67.62 L519.93,66.88 L520.08,66.15 L520.24,65.42 L520.39,64.68 L520.55,63.95 L520.71,63.22 L520.86,62.48 L521.02,61.75 L521.18,61.02 L521.33,60.28 L521.49,59.55 L521.64,58.82 L521.79,58.08 L521.94,57.35 L522.10,56.61 L522.24,55.88 L522.39,55.14 L522.54,54.41 L522.69,53.67 L522.84,52.94 L522.99,52.20 L523.14,51.47 L523.29,50.73 L523.45,50.00 L523.60,49.26 L523.76,48.53 L523.93,47.80 L524.09,47.07 L524.27,46.34 L524.44,45.61 L524.63,44.88 L524.82,44.16 L525.01,43.43 L525.21,42.71 L525.42,41.99 L525.62,41.27 L525.83,40.55 L526.05,39.83 L526.27,39.11 L526.51,38.40 L526.75,37.69 L527.01,36.99 L527.30,36.30 L527.60,35.62 L527.94,34.95 L528.30,34.30 L528.70,33.67 L529.14,33.07 L529.63,32.52 L530.18,32.03 L530.77,31.62 L531.41,31.31 L532.08,31.14 L532.77,31.13 L533.45,31.28 L534.11,31.56 L534.73,31.93 L535.32,32.38 L535.87,32.87 L536.39,33.41 L536.86,33.99 L537.30,34.59 L537.72,35.21 L538.10,35.85 L538.47,36.51 L538.81,37.17 L539.13,37.85 L539.43,38.54 L539.71,39.23 L539.98,39.93 L540.24,40.63 L540.49,41.34 L540.73,42.05 L540.95,42.77 L541.17,43.48 L541.38,44.20 L541.57,44.93 L541.75,45.66 L541.91,46.39 L542.07,47.12 L542.21,47.86 L542.35,48.59 L542.49,49.33 L542.62,50.07 L542.74,50.81 L542.87,51.55 L542.99,52.29 L543.11,53.03 L543.24,53.77 L543.36,54.51 L543.48,55.25 L543.60,55.99 L543.73,56.73 L543.85,57.47 L543.98,58.21 L544.11,58.95 L544.25,59.68 L544.38,60.42 L544.52,61.16 L544.66,61.89 L544.80,62.63 L544.94,63.37 L545.08,64.10 L545.22,64.84 L545.36,65.58 L545.50,66.31 L545.64,67.05 L545.79,67.79 L545.93,68.52 L546.07,69.26 L546.22,70.00 L546.36,70.73 L546.50,71.47 L546.65,72.20 L546.79,72.94 L546.94,73.68 L547.08,74.41 L547.23,75.15 L547.37,75.88 L547.52,76.62 L547.67,77.35 L547.82,78.09 L547.97,78.82 L548.12,79.56 L548.27,80.29 L548.42,81.03 L548.57,81.76 L548.73,82.50 L548.88,83.23 L549.04,83.96 L549.20,84.70 L549.35,85.43 L549.51,86.16 L549.66,86.90 L549.81,87.63 L549.97,88.37 L550.12,89.10 L550.26,89.84 L550.41,90.57 L550.55,91.31 L550.70,92.05 L550.84,92.78 L550.98,93.52 L551.12,94.26 L551.25,94.99 L551.39,95.73 L551.53,96.47 L551.67,97.20 L551.81,97.94 L551.95,98.68 L552.09,99.41 L552.23,100.15 L552.38,100.89 L552.52,101.62 L552.67,102.36 L552.82,103.09 L552.97,103.83 L553.12,104.56 L553.27,105.30 L553.42,106.03 L553.57,106.77 L553.72,107.50 L553.86,108.24 L554.01,108.97 L554.16,109.71 L554.30,110.45 L554.44,111.18 L554.58,111.92 L554.72,112.66 L554.85,113.39 L554.99,114.13 L555.12,114.87 L555.25,115.61 L555.38,116.35 L555.51,117.09 L555.64,117.82 L555.77,118.56 L555.90,119.30 L556.02,120.04 L556.15,120.78 L556.28,121.52 L556.41,122.26 L556.54,123.00 L556.67,123.73 L556.81,124.47 L556.94,125.21 L557.08,125.95 L557.21,126.69 L557.35,127.42 L557.48,128.16 L557.62,128.90 L557.76,129.64 L557.90,130.37 L558.04,131.11 L558.18,131.85 L558.32,132.58 L558.47,133.32 L558.61,134.05 L558.76,134.79 L558.91,135.52 L559.06,136.26 L559.22,136.99 L559.37,137.73 L559.53,138.46 L559.69,139.19 L559.84,139.93 L560.00,140.66 L560.16,141.39 L560.32,142.13 L560.47,142.86 L560.63,143.59 L560.78,144.33 L560.94,145.06 L561.09,145.80 L561.24,146.53 L561.40,147.26 L561.56,148.00 L561.72,148.73 L561.88,149.46 L562.05,150.19 L562.22,150.92 L562.39,151.65 L562.57,152.38 L562.75,153.11 L562.93,153.84 L563.11,154.56 L563.30,155.29 L563.49,156.02 L563.68,156.74 L563.87,157.47 L564.06,158.19 L564.25,158.92 L564.45,159.64 L564.65,160.36 L564.85,161.09 L565.05,161.81 L565.26,162.53 L565.46,163.25 L565.67,163.97 L565.88,164.69 L566.09,165.41 L566.30,166.13 L566.51,166.85 L566.72,167.57 L566.92,168.29 L567.13,169.02 L567.33,169.74 L567.54,170.46 L567.74,171.18 L567.93,171.91 L568.13,172.63 L568.32,173.35 L568.52,174.08 L568.71,174.80 L568.91,175.53 L569.11,176.25 L569.31,176.97 L569.52,177.69 L569.74,178.41 L569.96,179.12 L570.20,179.84 L570.44,180.55 L570.70,181.25 L570.96,181.95 L571.24,182.65 L571.52,183.34 L571.81,184.03 L572.11,184.72 L572.41,185.41 L572.71,186.10 L573.00,186.79 L573.30,187.48 L573.59,188.17 L573.87,188.86 L574.15,189.56 L574.43,190.26 L574.70,190.95 L574.98,191.65 L575.26,192.35 L575.54,193.04 L575.82,193.74 L576.12,194.43 L576.42,195.11 L576.73,195.80 L577.05,196.47 L577.39,197.14 L577.74,197.80 L578.10,198.46 L578.47,199.11 L578.84,199.76 L579.22,200.41 L579.61,201.05 L580.00,201.69 L580.40,202.33 L580.81,202.96 L581.22,203.58 L581.65,204.20 L582.08,204.81 L582.53,205.41 L582.98,206.01 L583.45,206.60 L583.93,207.17 L584.42,207.73 L584.93,208.28 L585.46,208.82 L586.00,209.34 L586.55,209.84 L587.11,210.34 L587.69,210.81 L588.28,211.28 L588.87,211.74 L589.48,212.18 L590.09,212.61 L590.71,213.03 L591.34,213.44 L591.97,213.84 L592.61,214.23 L593.26,214.61 L593.91,214.98 L594.56,215.35 L595.22,215.71 L595.89,216.05 L596.56,216.39 L597.23,216.72 L597.91,217.03 L598.60,217.33 L599.29,217.61 L600.00,217.87 L600.70,218.12 L601.42,218.35 L602.13,218.58 L602.85,218.79 L603.57,218.99 L604.30,219.18 L605.03,219.36 L605.76,219.53 L606.49,219.69 L607.22,219.83 L607.96,219.97 L608.70,220.09 L609.44,220.21 L610.18,220.33 L610.93,220.43 L611.67,220.53 L612.41,220.62 L613.16,220.71 L613.90,220.78 L614.65,220.85 L615.40,220.92 L616.15,220.98 L616.89,221.04 L617.64,221.09 L618.39,221.14 L619.14,221.20 L619.89,221.25 L620.63,221.29 L621.38,221.34 L622.13,221.38 L622.88,221.42 L623.63,221.46 L624.38,221.50 L625.13,221.53 L625.88,221.57 L626.63,221.60 L627.38,221.62 L628.13,221.65 L628.88,221.67 L629.63,221.69 L630.38,221.71 L631.12,221.72 L631.87,221.74 L632.62,221.75 L633.37,221.76 L634.12,221.77 L634.87,221.79 L635.62,221.80 L636.37,221.81 L637.12,221.82 L637.87,221.83 L638.62,221.83 L639.37,221.84 L640.12,221.85 L640.87,221.86 L641.62,221.87 L642.37,221.87 L643.12,221.88 L643.87,221.89 L644.62,221.90 L645.37,221.90 L646.12,221.91 L646.87,221.92 L647.62,221.92 L648.37,221.93 L649.12,221.94 L649.87,221.94 L650.62,221.95 L651.37,221.96 L652.12,221.96 L652.87,221.97 L653.62,221.97 L654.37,221.98 L655.12,221.98 L655.87,221.99 L656.62,221.99 L657.37,221.99 L658.12,222.00" fill="none" stroke="#464646" stroke-width="2.4" stroke-linejoin="round" stroke-linecap="round"/>
<path d="M410.60,222.00 L411.35,222.00 L412.10,222.00 L412.85,222.00 L413.60,222.00 L414.35,222.00 L415.10,222.00 L415.85,222.00 L416.60,222.00 L417.35,222.00 L418.10,222.00 L418.85,222.00 L419.60,222.00 L420.35,222.00 L421.10,222.00 L421.85,221.99 L422.60,221.97 L423.35,221.95 L424.10,221.91 L424.84,221.85 L425.59,221.78 L426.34,221.70 L427.08,221.60 L427.81,221.47 L428.54,221.30 L429.25,221.08 L429.94,220.81 L430.62,220.50 L431.28,220.16 L431.93,219.78 L432.55,219.37 L433.15,218.92 L433.72,218.44 L434.25,217.92 L434.76,217.37 L435.23,216.80 L435.67,216.19 L436.08,215.56 L436.46,214.92 L436.82,214.26 L437.16,213.59 L437.48,212.92 L437.80,212.24 L438.10,211.56 L438.40,210.87 L438.69,210.18 L438.97,209.48 L439.23,208.78 L439.49,208.07 L439.73,207.36 L439.96,206.65 L440.19,205.94 L440.41,205.22 L440.63,204.50 L440.84,203.78 L441.06,203.06 L441.27,202.34 L441.47,201.62 L441.68,200.90 L441.89,200.18 L442.10,199.46 L442.30,198.74 L442.50,198.02 L442.70,197.29 L442.90,196.57 L443.09,195.85 L443.28,195.12 L443.47,194.39 L443.65,193.67 L443.83,192.94 L444.00,192.21 L444.17,191.48 L444.34,190.75 L444.49,190.01 L444.65,189.28 L444.79,188.54 L444.93,187.81 L445.07,187.07 L445.21,186.33 L445.34,185.59 L445.47,184.86 L445.61,184.12 L445.74,183.38 L445.88,182.64 L446.03,181.91 L446.17,181.17 L446.32,180.44 L446.48,179.70 L446.64,178.97 L446.80,178.24 L446.96,177.50 L447.12,176.77 L447.29,176.04 L447.46,175.31 L447.63,174.58 L447.80,173.85 L447.98,173.12 L448.15,172.39 L448.33,171.66 L448.51,170.94 L448.69,170.21 L448.88,169.48 L449.06,168.75 L449.24,168.03 L449.42,167.30 L449.59,166.57 L449.76,165.84 L449.92,165.11 L450.08,164.37 L450.24,163.64 L450.39,162.90 L450.54,162.17 L450.69,161.43 L450.84,160.70 L450.99,159.96 L451.14,159.23 L451.30,158.50 L451.45,157.76 L451.60,157.03 L451.76,156.29 L451.91,155.56 L452.07,154.83 L452.23,154.10 L452.41,153.37 L452.60,152.64 L452.80,151.92 L453.03,151.21 L453.29,150.51 L453.57,149.82 L453.89,149.18 L454.28,148.63 L454.76,148.23 L455.32,148.03 L455.94,148.06 L456.58,148.27 L457.19,148.61 L457.75,149.07 L458.25,149.60 L458.68,150.19 L459.08,150.82 L459.44,151.48 L459.79,152.14 L460.11,152.82 L460.42,153.50 L460.71,154.19 L461.01,154.88 L461.30,155.57 L461.59,156.26 L461.88,156.95 L462.17,157.64 L462.46,158.34 L462.75,159.03 L463.04,159.72 L463.34,160.41 L463.63,161.10 L463.93,161.78 L464.24,162.47 L464.55,163.15 L464.86,163.83 L465.17,164.52 L465.49,165.20 L465.80,165.88 L466.11,166.56 L466.41,167.25 L466.72,167.93 L467.02,168.62 L467.31,169.31 L467.61,170.00 L467.90,170.69 L468.20,171.38 L468.49,172.07 L468.79,172.76 L469.08,173.45 L469.38,174.14 L469.68,174.83 L469.97,175.51 L470.27,176.20 L470.56,176.90 L470.84,177.59 L471.12,178.28 L471.40,178.98 L471.67,179.68 L471.94,180.38 L472.22,181.08 L472.49,181.77 L472.78,182.47 L473.06,183.16 L473.35,183.85 L473.64,184.55 L473.94,185.23 L474.26,185.88 L474.64,186.45 L475.10,186.89 L475.64,187.12 L476.24,187.12 L476.84,186.90 L477.38,186.51 L477.84,185.99 L478.20,185.38 L478.48,184.71 L478.71,184.00 L478.90,183.28 L479.09,182.55 L479.27,181.83 L479.45,181.10 L479.63,180.37 L479.81,179.64 L479.98,178.91 L480.15,178.18 L480.32,177.45 L480.49,176.72 L480.66,175.99 L480.84,175.26 L481.03,174.54 L481.24,173.82 L481.46,173.10 L481.69,172.39 L481.93,171.68 L482.19,170.97 L482.45,170.27 L482.71,169.57 L482.98,168.87 L483.24,168.16 L483.49,167.46 L483.74,166.75 L483.98,166.04 L484.21,165.32 L484.43,164.61 L484.65,163.89 L484.87,163.17 L485.08,162.46 L485.29,161.73 L485.49,161.01 L485.69,160.29 L485.88,159.56 L486.06,158.84 L486.24,158.11 L486.42,157.38 L486.58,156.65 L486.75,155.92 L486.90,155.18 L487.05,154.45 L487.20,153.71 L487.34,152.98 L487.48,152.24 L487.62,151.50 L487.76,150.76 L487.89,150.03 L488.03,149.29 L488.16,148.55 L488.30,147.81 L488.43,147.08 L488.56,146.34 L488.69,145.60 L488.82,144.86 L488.94,144.12 L489.06,143.38 L489.18,142.64 L489.30,141.90 L489.42,141.16 L489.53,140.42 L489.64,139.67 L489.75,138.93 L489.85,138.19 L489.96,137.45 L490.05,136.70 L490.15,135.96 L490.25,135.22 L490.34,134.47 L490.43,133.73 L490.53,132.98 L490.62,132.24 L490.71,131.49 L490.81,130.75 L490.90,130.01 L491.00,129.26 L491.10,128.52 L491.20,127.78 L491.30,127.03 L491.40,126.29 L491.51,125.55 L491.61,124.81 L491.72,124.06 L491.83,123.32 L491.94,122.58 L492.05,121.84 L492.16,121.10 L492.28,120.35 L492.39,119.61 L492.50,118.87 L492.62,118.13 L492.73,117.39 L492.84,116.65 L492.96,115.91 L493.08,115.17 L493.19,114.42 L493.31,113.68 L493.43,112.94 L493.55,112.20 L493.67,111.46 L493.79,110.72 L493.91,109.98 L494.03,109.24 L494.15,108.50 L494.27,107.76 L494.39,107.02 L494.50,106.28 L494.61,105.54 L494.72,104.80 L494.83,104.05 L494.94,103.31 L495.04,102.57 L495.14,101.83 L495.25,101.08 L495.36,100.34 L495.47,99.60 L495.58,98.86 L495.70,98.12 L495.82,97.38 L495.95,96.64 L496.07,95.90 L496.20,95.16 L496.33,94.42 L496.46,93.68 L496.59,92.94 L496.73,92.21 L496.86,91.47 L497.00,90.73 L497.13,89.99 L497.27,89.26 L497.40,88.52 L497.54,87.78 L497.67,87.04 L497.81,86.30 L497.94,85.57 L498.08,84.83 L498.21,84.09 L498.35,83.35 L498.49,82.62 L498.63,81.88 L498.76,81.14 L498.90,80.41 L499.05,79.67 L499.19,78.93 L499.34,78.20 L499.49,77.46 L499.64,76.73 L499.80,75.99 L499.96,75.26 L500.12,74.53 L500.28,73.80 L500.44,73.07 L500.61,72.33 L500.78,71.60 L500.94,70.87 L501.11,70.14 L501.29,69.41 L501.46,68.68 L501.64,67.95 L501.83,67.23 L502.02,66.50 L502.21,65.78 L502.42,65.06 L502.63,64.34 L502.85,63.62 L503.08,62.91 L503.32,62.20 L503.57,61.49 L503.82,60.78 L504.09,60.08 L504.36,59.39 L504.65,58.69 L504.96,58.01 L505.30,57.35 L505.67,56.70 L506.09,56.09 L506.56,55.51 L507.06,54.97 L507.61,54.47 L508.20,54.05 L508.82,53.73 L509.48,53.56 L510.15,53.57 L510.81,53.75 L511.43,54.08 L512.01,54.52 L512.55,55.02 L513.05,55.57 L513.50,56.16 L513.90,56.78 L514.27,57.43 L514.60,58.10 L514.90,58.79 L515.19,59.48 L515.48,60.17 L515.75,60.87 L516.03,61.57 L516.30,62.27 L516.56,62.97 L516.82,63.67 L517.07,64.38 L517.31,65.09 L517.54,65.80 L517.78,66.52 L518.00,67.23 L518.24,67.94 L518.47,68.66 L518.71,69.36 L518.97,70.07 L519.24,70.77 L519.54,71.46 L519.85,72.13 L520.19,72.80 L520.54,73.46 L520.89,74.13 L521.21,74.80 L521.51,75.49 L521.77,76.19 L521.99,76.90 L522.19,77.62 L522.38,78.35 L522.54,79.08 L522.70,79.81 L522.86,80.54 L523.01,81.28 L523.17,82.01 L523.33,82.74 L523.49,83.48 L523.66,84.21 L523.84,84.93 L524.02,85.66 L524.21,86.39 L524.40,87.11 L524.59,87.84 L524.78,88.56 L524.98,89.29 L525.18,90.01 L525.38,90.73 L525.58,91.46 L525.78,92.18 L525.98,92.90 L526.18,93.63 L526.38,94.35 L526.58,95.07 L526.78,95.79 L526.97,96.52 L527.17,97.24 L527.36,97.97 L527.56,98.69 L527.75,99.42 L527.94,100.14 L528.12,100.87 L528.31,101.59 L528.50,102.32 L528.69,103.05 L528.88,103.77 L529.06,104.50 L529.25,105.23 L529.44,105.95 L529.62,106.68 L529.81,107.41 L529.99,108.13 L530.17,108.86 L530.35,109.59 L530.53,110.32 L530.71,111.04 L530.89,111.77 L531.06,112.50 L531.23,113.23 L531.40,113.96 L531.57,114.70 L531.73,115.43 L531.90,116.16 L532.06,116.89 L532.21,117.62 L532.37,118.36 L532.52,119.09 L532.66,119.83 L532.81,120.57 L532.94,121.30 L533.08,122.04 L533.21,122.78 L533.34,123.52 L533.47,124.26 L533.60,125.00 L533.72,125.73 L533.85,126.47 L533.97,127.21 L534.10,127.95 L534.22,128.69 L534.35,129.43 L534.47,130.17 L534.59,130.91 L534.72,131.65 L534.85,132.39 L534.97,133.13 L535.10,133.87 L535.24,134.61 L535.37,135.34 L535.51,136.08 L535.65,136.82 L535.79,137.55 L535.94,138.29 L536.09,139.02 L536.26,139.76 L536.42,140.49 L536.60,141.22 L536.78,141.94 L536.97,142.67 L537.16,143.39 L537.36,144.12 L537.56,144.84 L537.76,145.56 L537.97,146.28 L538.17,147.01 L538.37,147.73 L538.58,148.45 L538.77,149.17 L538.97,149.90 L539.16,150.62 L539.34,151.35 L539.53,152.08 L539.71,152.80 L539.89,153.53 L540.07,154.26 L540.25,154.99 L540.43,155.72 L540.61,156.44 L540.79,157.17 L540.97,157.90 L541.16,158.63 L541.34,159.35 L541.52,160.08 L541.71,160.81 L541.90,161.53 L542.09,162.26 L542.29,162.98 L542.49,163.71 L542.69,164.43 L542.89,165.15 L543.09,165.87 L543.30,166.59 L543.50,167.32 L543.71,168.04 L543.92,168.76 L544.13,169.48 L544.33,170.20 L544.54,170.92 L544.75,171.64 L544.96,172.36 L545.17,173.08 L545.37,173.80 L545.58,174.52 L545.79,175.24 L545.99,175.96 L546.20,176.68 L546.41,177.41 L546.62,178.13 L546.83,178.85 L547.04,179.57 L547.24,180.29 L547.45,181.01 L547.66,181.73 L547.87,182.45 L548.08,183.17 L548.29,183.89 L548.49,184.61 L548.70,185.33 L548.91,186.05 L549.12,186.77 L549.35,187.49 L549.57,188.20 L549.81,188.91 L550.06,189.62 L550.32,190.32 L550.59,191.02 L550.87,191.72 L551.16,192.41 L551.46,193.10 L551.76,193.78 L552.08,194.46 L552.40,195.14 L552.72,195.82 L553.05,196.49 L553.39,197.16 L553.73,197.83 L554.07,198.49 L554.43,199.15 L554.80,199.81 L555.18,200.45 L555.57,201.09 L555.97,201.72 L556.39,202.34 L556.82,202.96 L557.27,203.56 L557.72,204.16 L558.19,204.75 L558.67,205.32 L559.16,205.89 L559.67,206.44 L560.18,206.98 L560.71,207.51 L561.25,208.03 L561.81,208.54 L562.37,209.03 L562.94,209.52 L563.52,209.99 L564.11,210.46 L564.70,210.92 L565.30,211.36 L565.91,211.80 L566.53,212.23 L567.15,212.64 L567.79,213.04 L568.43,213.43 L569.08,213.81 L569.73,214.17 L570.39,214.52 L571.06,214.87 L571.73,215.21 L572.39,215.55 L573.07,215.88 L573.74,216.22 L574.41,216.55 L575.08,216.88 L575.77,217.19 L576.45,217.49 L577.15,217.76 L577.85,218.02 L578.57,218.25 L579.28,218.47 L580.00,218.68 L580.73,218.87 L581.45,219.06 L582.18,219.24 L582.91,219.41 L583.64,219.58 L584.38,219.73 L585.11,219.86 L585.85,219.99 L586.59,220.10 L587.34,220.21 L588.08,220.30 L588.83,220.38 L589.57,220.46 L590.32,220.53 L591.06,220.61 L591.81,220.68 L592.56,220.75 L593.30,220.81 L594.05,220.88 L594.80,220.94 L595.55,221.00 L596.29,221.06 L597.04,221.12 L597.79,221.17 L598.54,221.22 L599.29,221.27 L600.03,221.32 L600.78,221.36 L601.53,221.41 L602.28,221.45 L603.03,221.48 L603.78,221.52 L604.53,221.55 L605.28,221.58 L606.03,221.60 L606.78,221.63 L607.53,221.65 L608.28,221.67 L609.03,221.68 L609.78,221.69 L610.53,221.71 L611.28,221.72 L612.03,221.72 L612.78,221.73 L613.53,221.74 L614.28,221.75 L615.03,221.76 L615.78,221.77 L616.53,221.78 L617.28,221.78 L618.03,221.79 L618.78,221.80 L619.53,221.81 L620.28,221.81 L621.03,221.82 L621.78,221.83 L622.53,221.84 L623.28,221.84 L624.03,221.85 L624.78,221.86 L625.53,221.86 L626.28,221.87 L627.03,221.88 L627.78,221.88 L628.53,221.89 L629.28,221.89 L630.03,221.90 L630.78,221.90 L631.53,221.91 L632.28,221.91 L633.03,221.92 L633.78,221.92 L634.53,221.93 L635.28,221.93 L636.03,221.94 L636.78,221.94 L637.53,221.94 L638.28,221.95 L639.03,221.95 L639.78,221.96 L640.53,221.96 L641.28,221.96 L642.03,221.97 L642.78,221.97 L643.53,221.97 L644.28,221.97 L645.03,221.98 L645.78,221.98 L646.53,221.98 L647.28,221.98 L648.03,221.99 L648.78,221.99 L649.53,221.99 L650.28,221.99 L651.03,221.99 L651.78,221.99 L652.53,222.00 L653.28,222.00 L654.03,222.00 L654.78,222.00 L655.53,222.00 L656.28,222.00 L657.03,222.00 L657.78,222.00" fill="none" stroke="#e8363c" stroke-width="2.4" stroke-linejoin="round" stroke-linecap="round"/>
<path d="M410.60,222.00 L411.35,222.00 L412.10,222.00 L412.85,222.00 L413.60,222.00 L414.35,222.00 L415.10,222.00 L415.85,222.00 L416.60,222.00 L417.35,222.00 L418.10,222.00 L418.85,222.00 L419.60,222.00 L420.35,222.00 L421.10,222.00 L421.85,222.00 L422.60,222.00 L423.35,222.00 L424.10,222.00 L424.85,222.00 L425.60,222.00 L426.35,222.00 L427.10,222.00 L427.85,222.00 L428.60,221.99 L429.35,221.98 L430.10,221.96 L430.85,221.94 L431.60,221.91 L432.35,221.88 L433.10,221.84 L433.84,221.78 L434.59,221.70 L435.33,221.60 L436.06,221.46 L436.77,221.26 L437.46,221.00 L438.10,220.66 L438.69,220.23 L439.22,219.74 L439.72,219.19 L440.19,218.61 L440.65,218.01 L441.08,217.40 L441.49,216.78 L441.88,216.14 L442.25,215.48 L442.58,214.81 L442.89,214.13 L443.17,213.44 L443.43,212.74 L443.68,212.03 L443.92,211.32 L444.16,210.61 L444.38,209.89 L444.60,209.18 L444.82,208.46 L445.03,207.74 L445.23,207.02 L445.42,206.29 L445.62,205.57 L445.81,204.84 L445.99,204.11 L446.17,203.38 L446.34,202.65 L446.51,201.92 L446.67,201.19 L446.83,200.46 L447.00,199.73 L447.16,199.00 L447.32,198.26 L447.48,197.53 L447.65,196.80 L447.81,196.07 L447.97,195.34 L448.14,194.60 L448.30,193.87 L448.47,193.14 L448.63,192.41 L448.80,191.68 L448.96,190.95 L449.13,190.22 L449.31,189.49 L449.48,188.76 L449.66,188.03 L449.84,187.30 L450.02,186.57 L450.20,185.84 L450.38,185.12 L450.57,184.39 L450.76,183.66 L450.96,182.94 L451.15,182.22 L451.36,181.49 L451.56,180.77 L451.77,180.05 L451.98,179.33 L452.18,178.61 L452.39,177.89 L452.60,177.17 L452.81,176.45 L453.02,175.73 L453.23,175.01 L453.44,174.29 L453.65,173.57 L453.86,172.85 L454.07,172.13 L454.29,171.41 L454.50,170.69 L454.71,169.97 L454.92,169.25 L455.13,168.53 L455.34,167.81 L455.55,167.09 L455.76,166.37 L455.97,165.65 L456.19,164.93 L456.40,164.22 L456.61,163.50 L456.82,162.78 L457.03,162.06 L457.25,161.34 L457.46,160.62 L457.67,159.90 L457.89,159.18 L458.10,158.46 L458.31,157.74 L458.53,157.02 L458.75,156.31 L458.97,155.59 L459.19,154.87 L459.41,154.16 L459.63,153.44 L459.85,152.72 L460.07,152.01 L460.30,151.29 L460.53,150.58 L460.76,149.87 L461.01,149.16 L461.26,148.45 L461.53,147.75 L461.79,147.05 L462.06,146.35 L462.32,145.65 L462.60,144.95 L462.89,144.26 L463.22,143.61 L463.60,143.01 L464.06,142.54 L464.61,142.22 L465.25,142.09 L465.92,142.14 L466.59,142.33 L467.21,142.65 L467.76,143.09 L468.23,143.62 L468.62,144.24 L468.97,144.89 L469.29,145.57 L469.59,146.25 L469.87,146.95 L470.15,147.64 L470.41,148.35 L470.66,149.05 L470.90,149.76 L471.14,150.47 L471.39,151.18 L471.63,151.89 L471.88,152.60 L472.12,153.31 L472.37,154.02 L472.61,154.73 L472.86,155.43 L473.10,156.14 L473.35,156.85 L473.59,157.56 L473.84,158.27 L474.09,158.98 L474.33,159.69 L474.58,160.39 L474.83,161.10 L475.08,161.81 L475.33,162.52 L475.58,163.22 L475.83,163.93 L476.08,164.64 L476.34,165.34 L476.61,166.04 L476.88,166.74 L477.16,167.44 L477.44,168.13 L477.73,168.82 L478.02,169.51 L478.32,170.20 L478.61,170.89 L478.91,171.58 L479.20,172.27 L479.49,172.96 L479.79,173.65 L480.08,174.34 L480.37,175.03 L480.67,175.72 L480.96,176.41 L481.25,177.10 L481.55,177.79 L481.85,178.48 L482.15,179.17 L482.45,179.86 L482.75,180.54 L483.05,181.23 L483.35,181.92 L483.65,182.60 L483.96,183.29 L484.27,183.97 L484.59,184.65 L484.91,185.32 L485.25,185.99 L485.60,186.66 L485.96,187.31 L486.33,187.97 L486.71,188.61 L487.10,189.25 L487.52,189.87 L487.97,190.46 L488.46,191.03 L488.99,191.55 L489.55,192.02 L490.16,192.44 L490.80,192.78 L491.46,193.00 L492.14,193.07 L492.81,192.97 L493.45,192.71 L494.05,192.32 L494.61,191.84 L495.12,191.31 L495.59,190.73 L496.01,190.12 L496.39,189.48 L496.73,188.82 L497.05,188.14 L497.34,187.45 L497.63,186.76 L497.90,186.06 L498.16,185.36 L498.42,184.65 L498.67,183.95 L498.90,183.23 L499.13,182.52 L499.34,181.80 L499.55,181.08 L499.75,180.36 L499.95,179.63 L500.14,178.91 L500.32,178.18 L500.50,177.45 L500.66,176.72 L500.82,175.99 L500.97,175.25 L501.12,174.52 L501.26,173.78 L501.40,173.05 L501.54,172.31 L501.69,171.57 L501.83,170.84 L501.99,170.10 L502.15,169.37 L502.31,168.64 L502.48,167.91 L502.65,167.18 L502.82,166.45 L503.00,165.72 L503.18,164.99 L503.36,164.26 L503.54,163.53 L503.72,162.81 L503.90,162.08 L504.08,161.35 L504.26,160.62 L504.44,159.89 L504.61,159.16 L504.78,158.43 L504.95,157.70 L505.12,156.97 L505.28,156.24 L505.44,155.51 L505.60,154.77 L505.76,154.04 L505.92,153.31 L506.07,152.57 L506.23,151.84 L506.38,151.11 L506.53,150.37 L506.69,149.64 L506.84,148.90 L506.99,148.17 L507.14,147.44 L507.30,146.70 L507.45,145.97 L507.60,145.23 L507.75,144.50 L507.91,143.76 L508.06,143.03 L508.21,142.30 L508.37,141.56 L508.52,140.83 L508.68,140.09 L508.84,139.36 L509.00,138.63 L509.16,137.90 L509.32,137.16 L509.49,136.43 L509.65,135.70 L509.82,134.97 L509.98,134.24 L510.14,133.50 L510.30,132.77 L510.46,132.04 L510.62,131.31 L510.77,130.57 L510.93,129.84 L511.07,129.10 L511.22,128.37 L511.36,127.63 L511.50,126.89 L511.64,126.16 L511.77,125.42 L511.91,124.68 L512.04,123.94 L512.16,123.20 L512.29,122.46 L512.42,121.72 L512.54,120.98 L512.67,120.24 L512.79,119.51 L512.92,118.77 L513.04,118.03 L513.17,117.29 L513.29,116.55 L513.42,115.81 L513.55,115.07 L513.68,114.33 L513.82,113.59 L513.95,112.86 L514.09,112.12 L514.23,111.38 L514.37,110.65 L514.52,109.91 L514.67,109.18 L514.82,108.44 L514.98,107.71 L515.13,106.97 L515.29,106.24 L515.45,105.51 L515.61,104.78 L515.77,104.04 L515.94,103.31 L516.10,102.58 L516.26,101.85 L516.43,101.11 L516.59,100.38 L516.75,99.65 L516.92,98.92 L517.08,98.19 L517.24,97.45 L517.39,96.72 L517.55,95.99 L517.71,95.25 L517.87,94.52 L518.03,93.79 L518.18,93.05 L518.35,92.32 L518.51,91.59 L518.68,90.86 L518.85,90.13 L519.02,89.40 L519.20,88.67 L519.39,87.95 L519.58,87.22 L519.78,86.50 L519.98,85.77 L520.19,85.05 L520.39,84.33 L520.61,83.61 L520.83,82.90 L521.05,82.18 L521.29,81.47 L521.53,80.76 L521.79,80.06 L522.07,79.36 L522.36,78.67 L522.67,77.99 L522.99,77.31 L523.33,76.65 L523.69,75.99 L524.08,75.35 L524.49,74.73 L524.94,74.14 L525.43,73.57 L525.96,73.05 L526.51,72.56 L527.11,72.14 L527.74,71.82 L528.41,71.65 L529.09,71.64 L529.76,71.79 L530.40,72.09 L531.02,72.48 L531.59,72.95 L532.11,73.47 L532.59,74.03 L533.02,74.64 L533.39,75.28 L533.73,75.94 L534.05,76.62 L534.34,77.31 L534.63,78.01 L534.91,78.70 L535.18,79.40 L535.46,80.10 L535.74,80.79 L536.03,81.48 L536.34,82.17 L536.65,82.85 L536.98,83.52 L537.32,84.19 L537.67,84.85 L538.02,85.51 L538.37,86.18 L538.72,86.84 L539.06,87.51 L539.38,88.19 L539.69,88.87 L539.99,89.56 L540.27,90.25 L540.53,90.96 L540.77,91.66 L541.01,92.38 L541.23,93.09 L541.45,93.81 L541.65,94.53 L541.86,95.25 L542.06,95.97 L542.27,96.70 L542.47,97.42 L542.67,98.14 L542.88,98.86 L543.08,99.58 L543.30,100.30 L543.51,101.02 L543.73,101.74 L543.95,102.45 L544.18,103.17 L544.40,103.88 L544.63,104.60 L544.86,105.31 L545.09,106.03 L545.32,106.74 L545.55,107.46 L545.77,108.17 L546.00,108.88 L546.23,109.60 L546.46,110.31 L546.69,111.03 L546.92,111.74 L547.14,112.46 L547.37,113.17 L547.60,113.89 L547.82,114.60 L548.05,115.32 L548.28,116.03 L548.50,116.75 L548.73,117.46 L548.95,118.18 L549.18,118.89 L549.41,119.61 L549.63,120.32 L549.86,121.04 L550.09,121.75 L550.31,122.47 L550.54,123.18 L550.77,123.90 L551.00,124.61 L551.23,125.32 L551.46,126.04 L551.69,126.75 L551.93,127.46 L552.16,128.18 L552.39,128.89 L552.63,129.60 L552.86,130.31 L553.09,131.03 L553.32,131.74 L553.55,132.45 L553.78,133.17 L554.00,133.89 L554.22,134.60 L554.44,135.32 L554.66,136.04 L554.86,136.76 L555.07,137.48 L555.27,138.20 L555.46,138.93 L555.64,139.66 L555.83,140.38 L556.01,141.11 L556.19,141.84 L556.37,142.57 L556.55,143.29 L556.74,144.02 L556.92,144.75 L557.11,145.47 L557.31,146.20 L557.51,146.92 L557.72,147.64 L557.94,148.36 L558.18,149.07 L558.43,149.77 L558.69,150.47 L558.97,151.17 L559.27,151.86 L559.57,152.54 L559.89,153.22 L560.22,153.90 L560.55,154.57 L560.89,155.24 L561.23,155.91 L561.57,156.57 L561.90,157.25 L562.23,157.92 L562.55,158.60 L562.86,159.28 L563.17,159.96 L563.47,160.65 L563.76,161.34 L564.05,162.04 L564.33,162.73 L564.62,163.42 L564.90,164.12 L565.19,164.81 L565.47,165.50 L565.77,166.19 L566.06,166.88 L566.36,167.57 L566.67,168.25 L566.99,168.93 L567.32,169.61 L567.66,170.27 L568.01,170.94 L568.36,171.60 L568.72,172.26 L569.09,172.91 L569.46,173.56 L569.84,174.21 L570.22,174.85 L570.61,175.50 L571.00,176.14 L571.40,176.77 L571.79,177.41 L572.19,178.05 L572.59,178.68 L573.00,179.31 L573.40,179.94 L573.82,180.57 L574.23,181.19 L574.65,181.81 L575.07,182.43 L575.49,183.05 L575.92,183.67 L576.34,184.29 L576.76,184.91 L577.19,185.53 L577.61,186.15 L578.05,186.76 L578.49,187.37 L578.94,187.97 L579.39,188.56 L579.86,189.15 L580.34,189.72 L580.83,190.29 L581.32,190.86 L581.82,191.41 L582.33,191.96 L582.85,192.51 L583.37,193.05 L583.90,193.58 L584.43,194.11 L584.97,194.63 L585.52,195.14 L586.07,195.65 L586.62,196.15 L587.18,196.66 L587.74,197.16 L588.29,197.67 L588.85,198.17 L589.40,198.67 L589.96,199.18 L590.52,199.68 L591.07,200.18 L591.63,200.68 L592.19,201.18 L592.75,201.68 L593.32,202.17 L593.88,202.66 L594.45,203.15 L595.02,203.64 L595.60,204.12 L596.17,204.60 L596.75,205.07 L597.34,205.54 L597.93,206.01 L598.51,206.48 L599.10,206.94 L599.70,207.39 L600.30,207.85 L600.91,208.29 L601.52,208.72 L602.14,209.13 L602.78,209.53 L603.42,209.91 L604.08,210.27 L604.74,210.62 L605.41,210.95 L606.09,211.28 L606.77,211.60 L607.45,211.91 L608.13,212.22 L608.81,212.54 L609.49,212.87 L610.16,213.20 L610.83,213.54 L611.49,213.89 L612.16,214.23 L612.82,214.58 L613.49,214.92 L614.16,215.25 L614.84,215.56 L615.53,215.86 L616.22,216.15 L616.92,216.43 L617.62,216.70 L618.32,216.97 L619.02,217.22 L619.73,217.46 L620.45,217.69 L621.17,217.90 L621.89,218.10 L622.62,218.28 L623.35,218.45 L624.08,218.61 L624.81,218.76 L625.55,218.90 L626.29,219.03 L627.03,219.16 L627.77,219.27 L628.51,219.38 L629.25,219.48 L630.00,219.57 L630.74,219.65 L631.49,219.73 L632.24,219.80 L632.98,219.86 L633.73,219.93 L634.48,219.99 L635.23,220.04 L635.98,220.10 L636.72,220.15 L637.47,220.20 L638.22,220.25 L638.97,220.30 L639.72,220.34 L640.47,220.39 L641.21,220.43 L641.96,220.47 L642.71,220.51 L643.46,220.55 L644.21,220.59 L644.96,220.63 L645.71,220.67 L646.46,220.70 L647.21,220.73 L647.96,220.77 L648.71,220.80 L649.45,220.83 L650.20,220.86 L650.95,220.89 L651.70,220.91 L652.45,220.94 L653.20,220.96 L653.95,220.98 L654.70,221.01 L655.45,221.03 L656.20,221.05 L656.95,221.06 L657.70,221.08" fill="none" stroke="#1565d8" stroke-width="2.4" stroke-linejoin="round" stroke-linecap="round"/>
<path d="M410.85,222.00 L411.60,222.00 L412.35,222.00 L413.10,221.99 L413.85,221.96 L414.59,221.92 L415.34,221.84 L416.08,221.72 L416.80,221.57 L417.52,221.37 L418.23,221.12 L418.92,220.84 L419.60,220.53 L420.27,220.20 L420.93,219.85 L421.58,219.48 L422.22,219.09 L422.85,218.67 L423.45,218.24 L424.04,217.77 L424.60,217.28 L425.13,216.75 L425.64,216.21 L426.13,215.64 L426.60,215.06 L427.06,214.47 L427.51,213.87 L427.96,213.27 L428.40,212.66 L428.83,212.05 L429.25,211.43 L429.66,210.80 L430.05,210.16 L430.43,209.51 L430.79,208.86 L431.15,208.19 L431.49,207.53 L431.83,206.86 L432.18,206.19 L432.52,205.53 L432.87,204.86 L433.22,204.20 L433.58,203.54 L433.94,202.88 L434.30,202.23 L434.66,201.57 L435.02,200.91 L435.37,200.25 L435.73,199.59 L436.07,198.92 L436.41,198.26 L436.74,197.58 L437.07,196.91 L437.38,196.22 L437.69,195.54 L437.99,194.85 L438.28,194.16 L438.57,193.47 L438.86,192.78 L439.14,192.08 L439.42,191.39 L439.70,190.69 L439.97,189.99 L440.24,189.29 L440.50,188.59 L440.76,187.89 L441.02,187.18 L441.27,186.48 L441.53,185.77 L441.79,185.07 L442.06,184.37 L442.33,183.67 L442.63,182.98 L442.94,182.30 L443.27,181.63 L443.61,180.96 L443.97,180.30 L444.34,179.65 L444.72,179.01 L445.11,178.37 L445.51,177.73 L445.91,177.10 L446.32,176.47 L446.72,175.83 L447.11,175.19 L447.48,174.54 L447.83,173.88 L448.16,173.21 L448.47,172.53 L448.78,171.84 L449.07,171.15 L449.36,170.46 L449.66,169.77 L449.96,169.09 L450.28,168.41 L450.61,167.74 L450.97,167.09 L451.36,166.45 L451.79,165.84 L452.25,165.29 L452.77,164.83 L453.33,164.53 L453.94,164.44 L454.54,164.58 L455.10,164.92 L455.59,165.40 L456.00,165.99 L456.36,166.63 L456.70,167.30 L457.02,167.97 L457.34,168.65 L457.66,169.33 L457.97,170.01 L458.28,170.69 L458.60,171.38 L458.91,172.06 L459.23,172.74 L459.54,173.42 L459.86,174.10 L460.18,174.78 L460.50,175.45 L460.84,176.12 L461.18,176.79 L461.53,177.45 L461.90,178.11 L462.28,178.75 L462.67,179.39 L463.08,180.02 L463.50,180.63 L463.95,181.23 L464.43,181.79 L464.94,182.30 L465.50,182.70 L466.12,182.94 L466.78,183.01 L467.45,182.90 L468.08,182.64 L468.66,182.23 L469.17,181.73 L469.64,181.16 L470.06,180.56 L470.45,179.92 L470.78,179.26 L471.07,178.57 L471.32,177.87 L471.54,177.15 L471.74,176.43 L471.93,175.70 L472.12,174.98 L472.31,174.25 L472.50,173.53 L472.69,172.80 L472.88,172.07 L473.06,171.35 L473.24,170.62 L473.42,169.89 L473.60,169.16 L473.78,168.43 L473.95,167.71 L474.12,166.98 L474.30,166.25 L474.46,165.51 L474.63,164.78 L474.80,164.05 L474.96,163.32 L475.12,162.59 L475.28,161.85 L475.43,161.12 L475.58,160.39 L475.73,159.65 L475.87,158.91 L476.01,158.18 L476.15,157.44 L476.28,156.70 L476.42,155.96 L476.55,155.23 L476.69,154.49 L476.82,153.75 L476.96,153.01 L477.11,152.28 L477.25,151.54 L477.40,150.81 L477.56,150.07 L477.73,149.34 L477.91,148.61 L478.09,147.89 L478.28,147.16 L478.47,146.44 L478.66,145.71 L478.85,144.99 L479.04,144.26 L479.22,143.53 L479.38,142.80 L479.54,142.07 L479.69,141.33 L479.83,140.60 L479.96,139.86 L480.07,139.12 L480.18,138.37 L480.27,137.63 L480.37,136.89 L480.45,136.14 L480.54,135.40 L480.62,134.65 L480.71,133.91 L480.79,133.16 L480.87,132.41 L480.95,131.67 L481.04,130.92 L481.13,130.18 L481.22,129.43 L481.31,128.69 L481.42,127.95 L481.52,127.21 L481.64,126.47 L481.76,125.73 L481.88,124.99 L482.01,124.25 L482.15,123.51 L482.28,122.77 L482.42,122.03 L482.56,121.30 L482.71,120.56 L482.86,119.83 L483.01,119.09 L483.16,118.36 L483.32,117.62 L483.47,116.89 L483.62,116.16 L483.77,115.42 L483.93,114.69 L484.08,113.95 L484.23,113.22 L484.38,112.48 L484.53,111.75 L484.69,111.02 L484.85,110.28 L485.00,109.55 L485.17,108.82 L485.33,108.08 L485.50,107.35 L485.68,106.63 L485.86,105.90 L486.05,105.17 L486.24,104.45 L486.45,103.73 L486.66,103.01 L486.88,102.29 L487.10,101.57 L487.32,100.86 L487.55,100.14 L487.77,99.43 L487.99,98.71 L488.21,97.99 L488.43,97.27 L488.65,96.56 L488.87,95.84 L489.09,95.12 L489.32,94.41 L489.55,93.70 L489.78,92.98 L490.02,92.27 L490.27,91.57 L490.53,90.86 L490.79,90.16 L491.05,89.45 L491.32,88.75 L491.59,88.06 L491.87,87.36 L492.15,86.67 L492.45,85.98 L492.78,85.31 L493.13,84.65 L493.53,84.03 L493.98,83.43 L494.47,82.87 L495.00,82.36 L495.57,81.90 L496.18,81.53 L496.84,81.28 L497.52,81.19 L498.21,81.25 L498.90,81.45 L499.56,81.76 L500.19,82.14 L500.79,82.58 L501.35,83.06 L501.88,83.58 L502.36,84.15 L502.81,84.75 L503.22,85.37 L503.61,86.01 L503.98,86.66 L504.33,87.32 L504.67,87.99 L505.01,88.66 L505.33,89.34 L505.65,90.02 L505.95,90.70 L506.24,91.39 L506.51,92.09 L506.77,92.80 L507.01,93.50 L507.25,94.21 L507.48,94.93 L507.71,95.64 L507.94,96.36 L508.16,97.07 L508.39,97.79 L508.62,98.50 L508.85,99.22 L509.08,99.93 L509.32,100.64 L509.57,101.35 L509.82,102.05 L510.07,102.76 L510.32,103.47 L510.57,104.17 L510.82,104.88 L511.07,105.59 L511.31,106.30 L511.54,107.01 L511.76,107.73 L511.98,108.45 L512.19,109.17 L512.39,109.89 L512.59,110.61 L512.77,111.34 L512.96,112.07 L513.13,112.80 L513.31,113.53 L513.48,114.26 L513.65,114.99 L513.81,115.72 L513.98,116.45 L514.14,117.18 L514.31,117.91 L514.47,118.64 L514.64,119.38 L514.80,120.11 L514.97,120.84 L515.13,121.57 L515.30,122.30 L515.47,123.03 L515.65,123.76 L515.83,124.49 L516.01,125.22 L516.19,125.94 L516.38,126.67 L516.57,127.40 L516.76,128.12 L516.95,128.85 L517.14,129.57 L517.33,130.30 L517.53,131.02 L517.72,131.75 L517.92,132.47 L518.12,133.19 L518.31,133.92 L518.51,134.64 L518.70,135.37 L518.90,136.09 L519.09,136.81 L519.28,137.54 L519.47,138.27 L519.66,138.99 L519.85,139.72 L520.03,140.44 L520.22,141.17 L520.40,141.90 L520.58,142.63 L520.76,143.35 L520.94,144.08 L521.12,144.81 L521.30,145.54 L521.47,146.27 L521.65,147.00 L521.83,147.73 L522.00,148.45 L522.18,149.18 L522.36,149.91 L522.53,150.64 L522.71,151.37 L522.89,152.10 L523.07,152.83 L523.24,153.56 L523.42,154.28 L523.60,155.01 L523.79,155.74 L523.97,156.47 L524.15,157.20 L524.33,157.92 L524.52,158.65 L524.70,159.38 L524.88,160.10 L525.06,160.83 L525.25,161.56 L525.43,162.29 L525.62,163.01 L525.80,163.74 L525.99,164.47 L526.18,165.19 L526.37,165.92 L526.56,166.64 L526.75,167.37 L526.94,168.09 L527.14,168.82 L527.33,169.54 L527.53,170.26 L527.73,170.99 L527.93,171.71 L528.13,172.43 L528.33,173.16 L528.54,173.88 L528.74,174.60 L528.95,175.32 L529.16,176.04 L529.37,176.76 L529.58,177.48 L529.79,178.20 L530.01,178.92 L530.22,179.64 L530.44,180.35 L530.66,181.07 L530.88,181.79 L531.11,182.50 L531.33,183.22 L531.56,183.93 L531.79,184.65 L532.01,185.36 L532.24,186.08 L532.47,186.79 L532.70,187.51 L532.93,188.22 L533.16,188.93 L533.39,189.65 L533.63,190.36 L533.87,191.07 L534.11,191.78 L534.35,192.49 L534.61,193.19 L534.86,193.90 L535.13,194.60 L535.40,195.30 L535.68,196.00 L535.96,196.69 L536.26,197.38 L536.57,198.06 L536.88,198.74 L537.19,199.42 L537.52,200.10 L537.84,200.78 L538.17,201.45 L538.51,202.12 L538.86,202.78 L539.21,203.45 L539.56,204.11 L539.93,204.76 L540.31,205.41 L540.69,206.05 L541.09,206.69 L541.50,207.31 L541.93,207.93 L542.37,208.53 L542.83,209.12 L543.31,209.70 L543.80,210.27 L544.30,210.83 L544.81,211.38 L545.33,211.92 L545.86,212.44 L546.40,212.96 L546.96,213.46 L547.53,213.95 L548.11,214.43 L548.70,214.88 L549.31,215.31 L549.94,215.73 L550.57,216.12 L551.23,216.49 L551.89,216.84 L552.55,217.18 L553.23,217.51 L553.91,217.82 L554.60,218.12 L555.29,218.40 L555.99,218.67 L556.70,218.91 L557.41,219.14 L558.14,219.34 L558.86,219.51 L559.60,219.67 L560.33,219.81 L561.07,219.93 L561.81,220.05 L562.56,220.15 L563.30,220.25 L564.04,220.35 L564.79,220.43 L565.53,220.52 L566.28,220.59 L567.03,220.66 L567.77,220.73 L568.52,220.79 L569.27,220.85 L570.02,220.91 L570.76,220.96 L571.51,221.01 L572.26,221.06 L573.01,221.11 L573.76,221.15 L574.51,221.20 L575.25,221.24 L576.00,221.28 L576.75,221.33 L577.50,221.37 L578.25,221.41 L579.00,221.44 L579.75,221.48 L580.50,221.51 L581.25,221.55 L582.00,221.58 L582.75,221.61 L583.49,221.64 L584.24,221.66 L584.99,221.69 L585.74,221.71 L586.49,221.73 L587.24,221.75 L587.99,221.77 L588.74,221.78 L589.49,221.80 L590.24,221.81 L590.99,221.82 L591.74,221.83 L592.49,221.84 L593.24,221.85 L593.99,221.86 L594.74,221.87 L595.49,221.88 L596.24,221.89 L596.99,221.90 L597.74,221.91 L598.49,221.92 L599.24,221.93 L599.99,221.94 L600.74,221.95 L601.49,221.96 L602.24,221.97 L602.99,221.98 L603.74,221.98 L604.49,221.99 L605.24,222.00 L605.99,222.01 L606.74,222.02 L607.49,222.03 L608.24,222.03 L608.99,222.04 L609.74,222.05 L610.49,222.06 L611.24,222.07 L611.99,222.07 L612.74,222.08 L613.49,222.09 L614.24,222.09 L614.99,222.10 L615.74,222.11 L616.49,222.11 L617.24,222.12 L617.99,222.13 L618.74,222.13 L619.49,222.14 L620.24,222.15 L620.99,222.15 L621.74,222.16 L622.49,222.16 L623.24,222.17 L623.99,222.18 L624.74,222.18 L625.49,222.19 L626.24,222.19 L626.99,222.20 L627.74,222.20 L628.49,222.21 L629.24,222.21 L629.99,222.22 L630.74,222.22 L631.49,222.22 L632.24,222.23 L632.99,222.23 L633.74,222.24 L634.49,222.24 L635.24,222.24 L635.99,222.25 L636.74,222.25 L637.49,222.25 L638.24,222.26 L638.99,222.26 L639.74,222.26 L640.49,222.27 L641.24,222.27 L641.99,222.27 L642.74,222.27 L643.49,222.28 L644.24,222.28 L644.99,222.28 L645.74,222.28 L646.49,222.29 L647.24,222.29 L647.99,222.29 L648.74,222.29 L649.49,222.29 L650.24,222.29 L650.99,222.29 L651.74,222.30 L652.49,222.30 L653.24,222.30 L653.99,222.30 L654.74,222.30 L655.49,222.30 L656.24,222.30 L656.99,222.30 L657.74,222.30" fill="none" stroke="#2aa05a" stroke-width="2.4" stroke-linejoin="round" stroke-linecap="round"/>
<path d="M410.60,222.00 L411.35,222.00 L412.10,222.00 L412.85,222.00 L413.60,222.00 L414.35,222.00 L415.10,222.00 L415.85,222.00 L416.60,222.00 L417.35,222.00 L418.10,222.00 L418.85,222.00 L419.60,222.00 L420.35,222.00 L421.10,221.99 L421.85,221.98 L422.60,221.95 L423.35,221.91 L424.09,221.84 L424.83,221.74 L425.57,221.62 L426.30,221.46 L427.02,221.26 L427.72,221.01 L428.41,220.72 L429.07,220.39 L429.72,220.02 L430.35,219.61 L430.96,219.18 L431.54,218.71 L432.11,218.22 L432.64,217.70 L433.15,217.16 L433.62,216.58 L434.04,215.96 L434.41,215.32 L434.75,214.66 L435.06,213.98 L435.36,213.29 L435.64,212.60 L435.93,211.90 L436.23,211.22 L436.54,210.53 L436.85,209.85 L437.17,209.17 L437.46,208.48 L437.74,207.79 L437.99,207.08 L438.22,206.37 L438.42,205.65 L438.61,204.92 L438.79,204.19 L438.96,203.46 L439.13,202.73 L439.30,202.00 L439.47,201.27 L439.65,200.54 L439.83,199.82 L440.02,199.09 L440.21,198.37 L440.41,197.64 L440.61,196.92 L440.82,196.20 L441.03,195.48 L441.24,194.76 L441.45,194.04 L441.66,193.32 L441.87,192.60 L442.08,191.88 L442.30,191.16 L442.51,190.44 L442.72,189.72 L442.93,189.00 L443.14,188.28 L443.35,187.56 L443.56,186.84 L443.77,186.12 L443.98,185.41 L444.20,184.69 L444.43,183.97 L444.66,183.26 L444.90,182.55 L445.15,181.84 L445.41,181.14 L445.67,180.44 L445.95,179.74 L446.23,179.04 L446.52,178.35 L446.81,177.66 L447.12,176.98 L447.44,176.30 L447.77,175.63 L448.10,174.96 L448.43,174.28 L448.75,173.61 L449.06,172.92 L449.34,172.23 L449.60,171.53 L449.84,170.82 L450.07,170.10 L450.28,169.38 L450.49,168.66 L450.71,167.95 L450.93,167.23 L451.16,166.52 L451.42,165.81 L451.70,165.12 L452.00,164.44 L452.34,163.78 L452.73,163.16 L453.18,162.62 L453.69,162.21 L454.24,161.99 L454.79,162.03 L455.28,162.31 L455.72,162.79 L456.10,163.38 L456.45,164.03 L456.77,164.71 L457.08,165.39 L457.38,166.08 L457.66,166.77 L457.94,167.47 L458.21,168.16 L458.49,168.86 L458.78,169.55 L459.07,170.24 L459.37,170.93 L459.67,171.62 L459.97,172.31 L460.28,172.99 L460.60,173.67 L460.92,174.35 L461.26,175.02 L461.60,175.68 L461.96,176.34 L462.32,177.00 L462.70,177.64 L463.10,178.27 L463.54,178.88 L464.01,179.45 L464.53,179.97 L465.09,180.43 L465.70,180.80 L466.35,181.03 L467.03,181.10 L467.72,181.01 L468.37,180.77 L468.98,180.40 L469.52,179.92 L470.00,179.38 L470.44,178.78 L470.86,178.16 L471.25,177.52 L471.61,176.87 L471.93,176.19 L472.22,175.51 L472.48,174.80 L472.70,174.09 L472.90,173.37 L473.09,172.64 L473.26,171.91 L473.44,171.18 L473.61,170.46 L473.79,169.73 L473.97,169.00 L474.14,168.27 L474.32,167.54 L474.49,166.81 L474.66,166.08 L474.83,165.35 L475.00,164.62 L475.17,163.89 L475.33,163.15 L475.49,162.42 L475.65,161.69 L475.80,160.95 L475.95,160.22 L476.10,159.48 L476.24,158.75 L476.38,158.01 L476.52,157.27 L476.66,156.54 L476.79,155.80 L476.93,155.06 L477.06,154.32 L477.20,153.59 L477.34,152.85 L477.48,152.11 L477.62,151.38 L477.78,150.64 L477.93,149.91 L478.10,149.18 L478.27,148.45 L478.45,147.72 L478.64,147.00 L478.83,146.27 L479.03,145.55 L479.22,144.82 L479.40,144.09 L479.58,143.37 L479.75,142.64 L479.91,141.90 L480.06,141.17 L480.20,140.43 L480.33,139.69 L480.45,138.95 L480.56,138.21 L480.66,137.47 L480.75,136.72 L480.84,135.98 L480.92,135.23 L481.01,134.49 L481.09,133.74 L481.17,133.00 L481.25,132.25 L481.34,131.51 L481.42,130.76 L481.51,130.02 L481.60,129.27 L481.70,128.53 L481.80,127.78 L481.90,127.04 L482.02,126.30 L482.14,125.56 L482.26,124.82 L482.39,124.08 L482.52,123.34 L482.66,122.61 L482.80,121.87 L482.94,121.13 L483.08,120.40 L483.23,119.66 L483.38,118.93 L483.53,118.19 L483.69,117.46 L483.84,116.72 L483.99,115.99 L484.15,115.26 L484.30,114.52 L484.45,113.79 L484.60,113.05 L484.75,112.32 L484.91,111.58 L485.06,110.85 L485.22,110.12 L485.38,109.38 L485.54,108.65 L485.70,107.92 L485.87,107.19 L486.04,106.46 L486.22,105.73 L486.41,105.01 L486.61,104.28 L486.81,103.56 L487.02,102.84 L487.24,102.12 L487.46,101.41 L487.68,100.69 L487.91,99.97 L488.13,99.26 L488.35,98.54 L488.57,97.82 L488.79,97.11 L489.01,96.39 L489.23,95.67 L489.45,94.96 L489.68,94.24 L489.91,93.53 L490.14,92.81 L490.38,92.10 L490.63,91.40 L490.88,90.69 L491.14,89.99 L491.40,89.28 L491.67,88.58 L491.94,87.88 L492.22,87.19 L492.50,86.49 L492.80,85.81 L493.12,85.13 L493.47,84.47 L493.86,83.84 L494.29,83.24 L494.77,82.67 L495.30,82.15 L495.86,81.68 L496.47,81.29 L497.11,81.02 L497.79,80.89 L498.49,80.93 L499.17,81.11 L499.84,81.40 L500.47,81.77 L501.08,82.20 L501.65,82.67 L502.19,83.18 L502.68,83.74 L503.13,84.33 L503.55,84.95 L503.94,85.59 L504.31,86.24 L504.67,86.90 L505.01,87.57 L505.35,88.24 L505.67,88.91 L505.99,89.59 L506.29,90.28 L506.58,90.97 L506.86,91.66 L507.12,92.37 L507.37,93.07 L507.61,93.78 L507.84,94.50 L508.07,95.21 L508.30,95.93 L508.52,96.64 L508.75,97.36 L508.98,98.07 L509.21,98.78 L509.44,99.50 L509.68,100.21 L509.92,100.92 L510.17,101.62 L510.42,102.33 L510.68,103.04 L510.93,103.74 L511.18,104.45 L511.42,105.16 L511.66,105.87 L511.90,106.58 L512.12,107.30 L512.34,108.01 L512.55,108.73 L512.76,109.46 L512.95,110.18 L513.14,110.91 L513.32,111.63 L513.50,112.36 L513.68,113.09 L513.85,113.82 L514.02,114.55 L514.18,115.28 L514.35,116.01 L514.51,116.75 L514.68,117.48 L514.84,118.21 L515.01,118.94 L515.17,119.67 L515.34,120.41 L515.50,121.14 L515.67,121.87 L515.84,122.60 L516.02,123.33 L516.19,124.06 L516.38,124.78 L516.56,125.51 L516.74,126.24 L516.93,126.96 L517.12,127.69 L517.31,128.41 L517.51,129.14 L517.70,129.86 L517.89,130.59 L518.09,131.31 L518.28,132.04 L518.48,132.76 L518.68,133.48 L518.87,134.21 L519.07,134.93 L519.26,135.66 L519.45,136.38 L519.65,137.11 L519.84,137.83 L520.03,138.56 L520.21,139.28 L520.40,140.01 L520.58,140.74 L520.77,141.46 L520.95,142.19 L521.13,142.92 L521.31,143.65 L521.49,144.38 L521.67,145.11 L521.84,145.83 L522.02,146.56 L522.20,147.29 L522.37,148.02 L522.55,148.75 L522.72,149.48 L522.90,150.21 L523.08,150.94 L523.25,151.67 L523.43,152.39 L523.61,153.12 L523.79,153.85 L523.97,154.58 L524.15,155.31 L524.33,156.03 L524.52,156.76 L524.70,157.49 L524.88,158.22 L525.06,158.94 L525.25,159.67 L525.43,160.40 L525.61,161.13 L525.80,161.85 L525.98,162.58 L526.17,163.31 L526.35,164.03 L526.54,164.76 L526.73,165.48 L526.92,166.21 L527.11,166.94 L527.30,167.66 L527.50,168.38 L527.70,169.11 L527.89,169.83 L528.09,170.55 L528.29,171.28 L528.49,172.00 L528.70,172.72 L528.90,173.44 L529.11,174.17 L529.31,174.89 L529.52,175.61 L529.73,176.33 L529.94,177.05 L530.15,177.77 L530.37,178.49 L530.58,179.20 L530.80,179.92 L531.02,180.64 L531.24,181.35 L531.47,182.07 L531.69,182.79 L531.92,183.50 L532.14,184.22 L532.37,184.93 L532.60,185.65 L532.83,186.36 L533.05,187.07 L533.28,187.79 L533.51,188.50 L533.75,189.21 L533.98,189.93 L534.22,190.64 L534.46,191.35 L534.71,192.06 L534.96,192.76 L535.21,193.47 L535.48,194.17 L535.75,194.87 L536.02,195.57 L536.31,196.26 L536.60,196.95 L536.91,197.64 L537.22,198.32 L537.53,199.00 L537.86,199.68 L538.18,200.35 L538.51,201.02 L538.85,201.69 L539.19,202.36 L539.54,203.03 L539.90,203.68 L540.26,204.34 L540.64,204.99 L541.02,205.63 L541.42,206.27 L541.83,206.90 L542.25,207.51 L542.69,208.12 L543.15,208.72 L543.62,209.30 L544.10,209.87 L544.60,210.43 L545.11,210.98 L545.63,211.52 L546.16,212.05 L546.70,212.57 L547.25,213.07 L547.82,213.56 L548.40,214.04 L548.99,214.50 L549.60,214.94 L550.22,215.35 L550.86,215.75 L551.51,216.12 L552.16,216.48 L552.83,216.82 L553.50,217.15 L554.18,217.46 L554.87,217.77 L555.56,218.05 L556.26,218.32 L556.97,218.57 L557.68,218.80 L558.40,219.00 L559.13,219.18 L559.86,219.34 L560.60,219.48 L561.34,219.61 L562.08,219.73 L562.82,219.83 L563.56,219.94 L564.31,220.03 L565.05,220.12 L565.80,220.20 L566.54,220.28 L567.29,220.35 L568.04,220.42 L568.78,220.48 L569.53,220.54 L570.28,220.60 L571.03,220.65 L571.77,220.70 L572.52,220.75 L573.27,220.80 L574.02,220.84 L574.77,220.89 L575.52,220.93 L576.27,220.98 L577.01,221.02 L577.76,221.06 L578.51,221.10 L579.26,221.14 L580.01,221.17 L580.76,221.21 L581.51,221.24 L582.26,221.27 L583.01,221.30 L583.76,221.33 L584.51,221.36 L585.26,221.38 L586.01,221.41 L586.76,221.43 L587.51,221.45 L588.26,221.47 L589.00,221.48 L589.75,221.49 L590.50,221.51 L591.25,221.52 L592.00,221.53 L592.75,221.54 L593.50,221.55 L594.25,221.56 L595.00,221.57 L595.75,221.58 L596.50,221.59 L597.25,221.60 L598.00,221.61 L598.75,221.62 L599.50,221.63 L600.25,221.64 L601.00,221.65 L601.75,221.66 L602.50,221.67 L603.25,221.67 L604.00,221.68 L604.75,221.69 L605.50,221.70 L606.25,221.71 L607.00,221.72 L607.75,221.72 L608.50,221.73 L609.25,221.74 L610.00,221.75 L610.75,221.76 L611.50,221.76 L612.25,221.77 L613.00,221.78 L613.75,221.79 L614.50,221.79 L615.25,221.80 L616.00,221.81 L616.75,221.81 L617.50,221.82 L618.25,221.83 L619.00,221.83 L619.75,221.84 L620.50,221.85 L621.25,221.85 L622.00,221.86 L622.75,221.86 L623.50,221.87 L624.25,221.87 L625.00,221.88 L625.75,221.89 L626.50,221.89 L627.25,221.90 L628.00,221.90 L628.75,221.91 L629.50,221.91 L630.25,221.91 L631.00,221.92 L631.75,221.92 L632.50,221.93 L633.25,221.93 L634.00,221.94 L634.75,221.94 L635.50,221.94 L636.25,221.95 L637.00,221.95 L637.75,221.95 L638.50,221.96 L639.25,221.96 L640.00,221.96 L640.75,221.97 L641.50,221.97 L642.25,221.97 L643.00,221.97 L643.75,221.98 L644.50,221.98 L645.25,221.98 L646.00,221.98 L646.75,221.99 L647.50,221.99 L648.25,221.99 L649.00,221.99 L649.75,221.99 L650.50,221.99 L651.25,221.99 L652.00,222.00 L652.75,222.00 L653.50,222.00 L654.25,222.00 L655.00,222.00 L655.75,222.00 L656.50,222.00 L657.25,222.00 L658.00,222.00" fill="none" stroke="#a96fdc" stroke-width="2.4" stroke-linejoin="round" stroke-linecap="round"/>
<path d="M410.85,222.01 L411.60,222.02 L412.35,222.03 L413.10,222.04 L413.85,222.04 L414.60,222.05 L415.35,222.06 L416.10,222.07 L416.85,222.07 L417.60,222.08 L418.35,222.08 L419.10,222.09 L419.85,222.09 L420.60,222.09 L421.35,222.09 L422.10,222.10 L422.85,222.10 L423.60,222.10 L424.35,222.10 L425.10,222.10 L425.85,222.10 L426.60,222.09 L427.35,222.08 L428.10,222.06 L428.84,222.01 L429.59,221.93 L430.33,221.81 L431.06,221.67 L431.78,221.49 L432.50,221.27 L433.19,221.00 L433.86,220.68 L434.51,220.31 L435.12,219.89 L435.69,219.43 L436.23,218.92 L436.74,218.37 L437.22,217.79 L437.66,217.19 L438.09,216.58 L438.48,215.94 L438.85,215.29 L439.20,214.63 L439.53,213.96 L439.84,213.27 L440.13,212.58 L440.40,211.89 L440.66,211.18 L440.89,210.47 L441.12,209.76 L441.34,209.04 L441.56,208.32 L441.76,207.60 L441.97,206.88 L442.17,206.16 L442.37,205.43 L442.56,204.71 L442.75,203.98 L442.93,203.25 L443.12,202.53 L443.30,201.80 L443.48,201.07 L443.66,200.34 L443.85,199.62 L444.03,198.89 L444.22,198.16 L444.41,197.44 L444.59,196.71 L444.78,195.99 L444.97,195.26 L445.16,194.53 L445.35,193.81 L445.54,193.08 L445.72,192.36 L445.91,191.63 L446.10,190.90 L446.28,190.18 L446.46,189.45 L446.64,188.72 L446.82,187.99 L446.99,187.26 L447.17,186.53 L447.35,185.80 L447.52,185.08 L447.70,184.35 L447.89,183.62 L448.07,182.89 L448.26,182.17 L448.46,181.44 L448.66,180.72 L448.86,180.00 L449.06,179.28 L449.27,178.56 L449.48,177.84 L449.69,177.12 L449.90,176.40 L450.10,175.67 L450.31,174.95 L450.51,174.23 L450.72,173.51 L450.92,172.79 L451.12,172.06 L451.32,171.34 L451.52,170.62 L451.72,169.89 L451.91,169.17 L452.11,168.45 L452.31,167.73 L452.51,167.00 L452.71,166.28 L452.91,165.56 L453.10,164.83 L453.30,164.11 L453.50,163.38 L453.70,162.66 L453.90,161.94 L454.10,161.22 L454.30,160.49 L454.50,159.77 L454.70,159.05 L454.90,158.33 L455.10,157.60 L455.31,156.88 L455.51,156.16 L455.72,155.44 L455.93,154.72 L456.14,154.00 L456.36,153.28 L456.59,152.57 L456.82,151.85 L457.06,151.14 L457.30,150.43 L457.55,149.73 L457.81,149.02 L458.07,148.32 L458.35,147.62 L458.64,146.93 L458.94,146.24 L459.25,145.56 L459.58,144.89 L459.92,144.23 L460.29,143.58 L460.68,142.95 L461.11,142.36 L461.59,141.85 L462.13,141.48 L462.73,141.29 L463.38,141.31 L464.02,141.51 L464.63,141.86 L465.17,142.32 L465.66,142.86 L466.08,143.47 L466.47,144.10 L466.83,144.76 L467.16,145.43 L467.46,146.11 L467.74,146.81 L468.01,147.51 L468.26,148.21 L468.50,148.92 L468.74,149.64 L468.98,150.35 L469.22,151.06 L469.46,151.77 L469.71,152.47 L469.95,153.18 L470.20,153.89 L470.45,154.60 L470.69,155.31 L470.94,156.02 L471.18,156.73 L471.43,157.43 L471.68,158.14 L471.92,158.85 L472.17,159.56 L472.42,160.27 L472.67,160.97 L472.92,161.68 L473.17,162.39 L473.42,163.09 L473.68,163.80 L473.94,164.50 L474.20,165.20 L474.47,165.90 L474.75,166.60 L475.03,167.29 L475.32,167.99 L475.61,168.68 L475.91,169.36 L476.21,170.05 L476.52,170.74 L476.82,171.42 L477.13,172.11 L477.44,172.79 L477.75,173.47 L478.06,174.16 L478.37,174.84 L478.69,175.52 L479.01,176.20 L479.32,176.88 L479.64,177.56 L479.95,178.24 L480.25,178.92 L480.56,179.61 L480.85,180.30 L481.14,180.99 L481.44,181.68 L481.73,182.37 L482.04,183.06 L482.35,183.74 L482.68,184.41 L483.03,185.07 L483.39,185.73 L483.76,186.38 L484.15,187.02 L484.55,187.65 L484.98,188.27 L485.43,188.86 L485.91,189.43 L486.42,189.98 L486.95,190.50 L487.51,191.00 L488.09,191.44 L488.71,191.78 L489.37,192.00 L490.03,192.04 L490.69,191.90 L491.31,191.60 L491.90,191.18 L492.44,190.69 L492.96,190.15 L493.43,189.58 L493.88,188.98 L494.29,188.35 L494.66,187.71 L495.01,187.04 L495.33,186.37 L495.63,185.68 L495.90,184.98 L496.16,184.28 L496.39,183.57 L496.61,182.85 L496.82,182.13 L497.02,181.41 L497.21,180.68 L497.41,179.96 L497.60,179.24 L497.80,178.51 L498.01,177.79 L498.21,177.07 L498.42,176.35 L498.63,175.63 L498.83,174.91 L499.04,174.19 L499.25,173.47 L499.45,172.74 L499.65,172.02 L499.85,171.30 L500.04,170.57 L500.23,169.85 L500.41,169.12 L500.59,168.39 L500.77,167.66 L500.94,166.93 L501.11,166.20 L501.28,165.47 L501.44,164.74 L501.60,164.01 L501.76,163.28 L501.92,162.54 L502.08,161.81 L502.23,161.07 L502.39,160.34 L502.54,159.61 L502.70,158.87 L502.85,158.14 L503.00,157.40 L503.15,156.67 L503.31,155.94 L503.46,155.20 L503.61,154.47 L503.76,153.73 L503.91,153.00 L504.06,152.26 L504.20,151.53 L504.35,150.79 L504.50,150.05 L504.64,149.32 L504.79,148.58 L504.93,147.85 L505.07,147.11 L505.22,146.37 L505.36,145.64 L505.51,144.90 L505.65,144.17 L505.80,143.43 L505.95,142.70 L506.10,141.96 L506.25,141.23 L506.40,140.49 L506.55,139.76 L506.71,139.02 L506.87,138.29 L507.03,137.56 L507.19,136.83 L507.35,136.09 L507.51,135.36 L507.68,134.63 L507.84,133.90 L508.00,133.17 L508.17,132.43 L508.33,131.70 L508.48,130.97 L508.64,130.23 L508.80,129.50 L508.95,128.77 L509.11,128.03 L509.26,127.30 L509.41,126.56 L509.56,125.83 L509.71,125.09 L509.86,124.36 L510.01,123.62 L510.15,122.89 L510.30,122.15 L510.44,121.42 L510.58,120.68 L510.73,119.94 L510.86,119.21 L511.00,118.47 L511.14,117.73 L511.27,116.99 L511.40,116.26 L511.53,115.52 L511.66,114.78 L511.79,114.04 L511.91,113.30 L512.04,112.56 L512.16,111.82 L512.28,111.08 L512.41,110.34 L512.53,109.60 L512.66,108.86 L512.78,108.12 L512.91,107.38 L513.03,106.64 L513.16,105.90 L513.29,105.17 L513.42,104.43 L513.56,103.69 L513.69,102.95 L513.82,102.21 L513.95,101.47 L514.08,100.73 L514.21,100.00 L514.34,99.26 L514.47,98.52 L514.60,97.78 L514.73,97.04 L514.87,96.30 L515.00,95.57 L515.14,94.83 L515.28,94.09 L515.43,93.36 L515.59,92.62 L515.75,91.89 L515.92,91.16 L516.10,90.44 L516.30,89.71 L516.50,88.99 L516.71,88.27 L516.92,87.55 L517.15,86.83 L517.38,86.12 L517.62,85.41 L517.87,84.71 L518.14,84.01 L518.42,83.31 L518.72,82.62 L519.04,81.95 L519.39,81.29 L519.76,80.64 L520.16,80.00 L520.58,79.39 L521.05,78.81 L521.56,78.28 L522.12,77.81 L522.73,77.41 L523.39,77.09 L524.08,76.87 L524.79,76.74 L525.51,76.74 L526.21,76.86 L526.89,77.10 L527.54,77.44 L528.15,77.85 L528.71,78.33 L529.22,78.86 L529.68,79.44 L530.10,80.05 L530.50,80.69 L530.87,81.34 L531.22,82.00 L531.56,82.67 L531.87,83.35 L532.17,84.04 L532.45,84.73 L532.72,85.43 L532.99,86.13 L533.25,86.84 L533.50,87.54 L533.75,88.25 L534.00,88.95 L534.25,89.66 L534.49,90.37 L534.73,91.08 L534.96,91.80 L535.19,92.51 L535.42,93.23 L535.64,93.94 L535.86,94.66 L536.07,95.38 L536.29,96.10 L536.50,96.81 L536.72,97.53 L536.93,98.25 L537.14,98.97 L537.36,99.69 L537.57,100.41 L537.79,101.13 L538.00,101.85 L538.21,102.57 L538.42,103.29 L538.63,104.01 L538.84,104.73 L539.05,105.45 L539.26,106.17 L539.47,106.89 L539.68,107.61 L539.89,108.33 L540.10,109.05 L540.32,109.76 L540.53,110.48 L540.75,111.20 L540.98,111.91 L541.21,112.63 L541.44,113.34 L541.67,114.06 L541.91,114.77 L542.14,115.48 L542.39,116.19 L542.63,116.90 L542.87,117.61 L543.12,118.32 L543.36,119.03 L543.61,119.73 L543.86,120.44 L544.10,121.15 L544.35,121.86 L544.60,122.57 L544.84,123.28 L545.08,123.99 L545.33,124.70 L545.57,125.41 L545.80,126.12 L546.04,126.83 L546.27,127.54 L546.51,128.25 L546.74,128.97 L546.97,129.68 L547.20,130.39 L547.43,131.11 L547.66,131.82 L547.89,132.54 L548.12,133.25 L548.35,133.96 L548.58,134.68 L548.82,135.39 L549.05,136.10 L549.29,136.81 L549.52,137.53 L549.76,138.24 L550.01,138.95 L550.25,139.66 L550.50,140.36 L550.74,141.07 L550.99,141.78 L551.25,142.49 L551.50,143.19 L551.76,143.90 L552.02,144.60 L552.28,145.30 L552.54,146.01 L552.81,146.71 L553.07,147.41 L553.35,148.11 L553.62,148.80 L553.90,149.50 L554.18,150.19 L554.47,150.89 L554.76,151.58 L555.05,152.27 L555.34,152.96 L555.64,153.65 L555.94,154.34 L556.24,155.02 L556.54,155.71 L556.85,156.39 L557.16,157.07 L557.48,157.76 L557.79,158.44 L558.10,159.12 L558.41,159.81 L558.71,160.49 L559.01,161.18 L559.31,161.86 L559.61,162.55 L559.91,163.24 L560.21,163.93 L560.51,164.62 L560.80,165.31 L561.10,165.99 L561.40,166.68 L561.70,167.37 L562.00,168.06 L562.30,168.74 L562.60,169.43 L562.91,170.12 L563.21,170.80 L563.52,171.49 L563.83,172.17 L564.14,172.85 L564.45,173.53 L564.76,174.21 L565.08,174.89 L565.41,175.57 L565.73,176.24 L566.07,176.92 L566.41,177.59 L566.75,178.25 L567.10,178.92 L567.45,179.58 L567.81,180.24 L568.17,180.89 L568.54,181.55 L568.91,182.20 L569.28,182.85 L569.66,183.50 L570.05,184.14 L570.44,184.78 L570.84,185.41 L571.25,186.04 L571.67,186.66 L572.10,187.27 L572.54,187.88 L572.99,188.48 L573.44,189.08 L573.89,189.68 L574.33,190.29 L574.78,190.89 L575.22,191.50 L575.66,192.10 L576.10,192.71 L576.54,193.32 L576.98,193.92 L577.43,194.53 L577.88,195.13 L578.32,195.73 L578.77,196.33 L579.22,196.93 L579.67,197.53 L580.12,198.13 L580.58,198.73 L581.04,199.32 L581.50,199.91 L581.98,200.49 L582.47,201.05 L582.97,201.61 L583.49,202.15 L584.02,202.68 L584.56,203.20 L585.12,203.70 L585.68,204.20 L586.25,204.68 L586.83,205.15 L587.42,205.62 L588.02,206.07 L588.63,206.51 L589.24,206.94 L589.86,207.36 L590.49,207.77 L591.12,208.17 L591.76,208.56 L592.41,208.94 L593.06,209.32 L593.71,209.68 L594.37,210.05 L595.03,210.41 L595.69,210.76 L596.35,211.11 L597.02,211.45 L597.69,211.79 L598.36,212.12 L599.04,212.44 L599.72,212.76 L600.40,213.07 L601.09,213.37 L601.78,213.67 L602.47,213.96 L603.16,214.25 L603.86,214.53 L604.55,214.80 L605.25,215.07 L605.96,215.34 L606.66,215.59 L607.37,215.84 L608.07,216.09 L608.79,216.33 L609.50,216.57 L610.21,216.80 L610.93,217.02 L611.64,217.24 L612.36,217.45 L613.08,217.66 L613.81,217.86 L614.53,218.05 L615.26,218.23 L615.99,218.41 L616.72,218.58 L617.45,218.74 L618.18,218.90 L618.92,219.05 L619.65,219.20 L620.39,219.34 L621.13,219.46 L621.87,219.58 L622.61,219.69 L623.35,219.79 L624.10,219.88 L624.84,219.97 L625.59,220.05 L626.34,220.13 L627.08,220.20 L627.83,220.27 L628.57,220.34 L629.32,220.41 L630.07,220.47 L630.82,220.53 L631.57,220.58 L632.31,220.64 L633.06,220.69 L633.81,220.74 L634.56,220.79 L635.31,220.83 L636.06,220.88 L636.80,220.92 L637.55,220.97 L638.30,221.01 L639.05,221.05 L639.80,221.08 L640.55,221.12 L641.30,221.16 L642.05,221.19 L642.80,221.22 L643.55,221.25 L644.30,221.27 L645.05,221.30 L645.79,221.32 L646.54,221.35 L647.29,221.37 L648.04,221.39 L648.79,221.41 L649.54,221.43 L650.29,221.45 L651.04,221.47 L651.79,221.49 L652.54,221.51 L653.29,221.52 L654.04,221.54 L654.79,221.55 L655.54,221.56 L656.29,221.58 L657.04,221.58 L657.79,221.59" fill="none" stroke="#cc9507" stroke-width="2.4" stroke-linejoin="round" stroke-linecap="round"/>
<line x1="411.1" y1="5.800000000000001" x2="411.1" y2="224.85" stroke="#555" stroke-width="1.9"/>
<line x1="682.5" y1="5.800000000000001" x2="682.5" y2="224.85" stroke="#404040" stroke-width="1.2"/>
<line x1="410.15000000000003" y1="6.4" x2="683.1" y2="6.4" stroke="#404040" stroke-width="1.2"/>
<line x1="410.15000000000003" y1="224.0" x2="683.1" y2="224.0" stroke="#404040" stroke-width="1.7"/>
<line x1="406.90000000000003" y1="221.80" x2="411.1" y2="221.80" stroke="#404040" stroke-width="1.3"/>
<text x="403.7" y="225.50" text-anchor="end" class="t">0</text>
<line x1="408.70000000000005" y1="208.35" x2="411.1" y2="208.35" stroke="#404040" stroke-width="1.3"/>
<line x1="406.90000000000003" y1="194.90" x2="411.1" y2="194.90" stroke="#404040" stroke-width="1.3"/>
<text x="403.7" y="198.60" text-anchor="end" class="t">20000</text>
<line x1="408.70000000000005" y1="181.45" x2="411.1" y2="181.45" stroke="#404040" stroke-width="1.3"/>
<line x1="406.90000000000003" y1="168.00" x2="411.1" y2="168.00" stroke="#404040" stroke-width="1.3"/>
<text x="403.7" y="171.70" text-anchor="end" class="t">40000</text>
<line x1="408.70000000000005" y1="154.55" x2="411.1" y2="154.55" stroke="#404040" stroke-width="1.3"/>
<line x1="406.90000000000003" y1="141.10" x2="411.1" y2="141.10" stroke="#404040" stroke-width="1.3"/>
<text x="403.7" y="144.80" text-anchor="end" class="t">60000</text>
<line x1="408.70000000000005" y1="127.65" x2="411.1" y2="127.65" stroke="#404040" stroke-width="1.3"/>
<line x1="406.90000000000003" y1="114.20" x2="411.1" y2="114.20" stroke="#404040" stroke-width="1.3"/>
<text x="403.7" y="117.90" text-anchor="end" class="t">80000</text>
<line x1="408.70000000000005" y1="100.75" x2="411.1" y2="100.75" stroke="#404040" stroke-width="1.3"/>
<line x1="406.90000000000003" y1="87.30" x2="411.1" y2="87.30" stroke="#404040" stroke-width="1.3"/>
<text x="403.7" y="91.00" text-anchor="end" class="t">100000</text>
<line x1="408.70000000000005" y1="73.85" x2="411.1" y2="73.85" stroke="#404040" stroke-width="1.3"/>
<line x1="406.90000000000003" y1="60.40" x2="411.1" y2="60.40" stroke="#404040" stroke-width="1.3"/>
<text x="403.7" y="64.10" text-anchor="end" class="t">120000</text>
<line x1="408.70000000000005" y1="46.95" x2="411.1" y2="46.95" stroke="#404040" stroke-width="1.3"/>
<line x1="406.90000000000003" y1="33.50" x2="411.1" y2="33.50" stroke="#404040" stroke-width="1.3"/>
<text x="403.7" y="37.20" text-anchor="end" class="t">140000</text>
<line x1="408.70000000000005" y1="20.05" x2="411.1" y2="20.05" stroke="#404040" stroke-width="1.3"/>
<line x1="406.90000000000003" y1="6.60" x2="411.1" y2="6.60" stroke="#404040" stroke-width="1.3"/>
<text x="403.7" y="10.30" text-anchor="end" class="t">160000</text>
<line x1="410.60" y1="224.0" x2="410.60" y2="227.7" stroke="#404040" stroke-width="1.4"/>
<text x="410.60" y="240.4" text-anchor="middle" class="t">300</text>
<line x1="460.15" y1="224.0" x2="460.15" y2="227.7" stroke="#404040" stroke-width="1.4"/>
<text x="460.15" y="240.4" text-anchor="middle" class="t">400</text>
<line x1="509.70" y1="224.0" x2="509.70" y2="227.7" stroke="#404040" stroke-width="1.4"/>
<text x="509.70" y="240.4" text-anchor="middle" class="t">500</text>
<line x1="559.25" y1="224.0" x2="559.25" y2="227.7" stroke="#404040" stroke-width="1.4"/>
<text x="559.25" y="240.4" text-anchor="middle" class="t">600</text>
<line x1="608.80" y1="224.0" x2="608.80" y2="227.7" stroke="#404040" stroke-width="1.4"/>
<text x="608.80" y="240.4" text-anchor="middle" class="t">700</text>
<line x1="658.35" y1="224.0" x2="658.35" y2="227.7" stroke="#404040" stroke-width="1.4"/>
<text x="658.35" y="240.4" text-anchor="middle" class="t">800</text>
<line x1="435.38" y1="224.0" x2="435.38" y2="226.22" stroke="#404040" stroke-width="1.4"/>
<line x1="484.93" y1="224.0" x2="484.93" y2="226.22" stroke="#404040" stroke-width="1.4"/>
<line x1="534.48" y1="224.0" x2="534.48" y2="226.22" stroke="#404040" stroke-width="1.4"/>
<line x1="584.03" y1="224.0" x2="584.03" y2="226.22" stroke="#404040" stroke-width="1.4"/>
<line x1="633.58" y1="224.0" x2="633.58" y2="226.22" stroke="#404040" stroke-width="1.4"/>
<line x1="683.12" y1="224.0" x2="683.12" y2="226.22" stroke="#404040" stroke-width="1.4"/>
<text x="433.4" y="42.9" class="pl">(b)</text>
<text transform="translate(366.0,115.9) rotate(-90)" text-anchor="middle" class="ax">Molar absorption coefficient (ε)</text>
<text x="501.3" y="259.8" class="ax" style="font-size:12.5px">Wavelength (<tspan font-style="italic">nm</tspan>)</text>
<rect x="606.2" y="17.2" width="67.5" height="86.2" fill="#fff" stroke="#8a8a8a" stroke-width="1"/>
<line x1="607.4" y1="25.10" x2="633.6" y2="25.10" stroke="#464646" stroke-width="2.2"/>
<text x="636.3" y="29.00" class="t">TPBR1</text>
<line x1="607.4" y1="39.14" x2="633.6" y2="39.14" stroke="#e8363c" stroke-width="2.2"/>
<text x="636.3" y="43.04" class="t">TPBD2</text>
<line x1="607.4" y1="53.18" x2="633.6" y2="53.18" stroke="#1565d8" stroke-width="2.2"/>
<text x="636.3" y="57.08" class="t">TPBD3</text>
<line x1="607.4" y1="67.22" x2="633.6" y2="67.22" stroke="#2aa05a" stroke-width="2.2"/>
<text x="636.3" y="71.12" class="t">TPBD4</text>
<line x1="607.4" y1="81.26" x2="633.6" y2="81.26" stroke="#a96fdc" stroke-width="2.2"/>
<text x="636.3" y="85.16" class="t">TPBD5</text>
<line x1="607.4" y1="95.30" x2="633.6" y2="95.30" stroke="#cc9507" stroke-width="2.2"/>
<text x="636.3" y="99.20" class="t">TPBD6</text>
</svg>
</body></html>
